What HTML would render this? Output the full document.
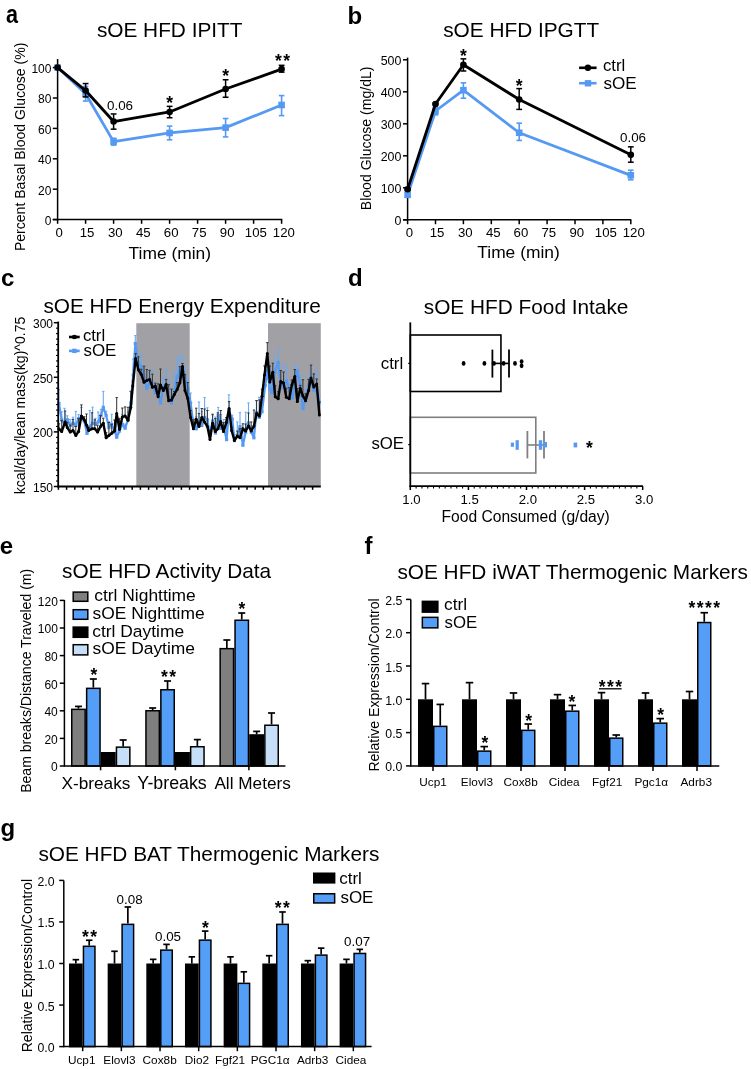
<!DOCTYPE html>
<html><head><meta charset="utf-8"><title>Figure</title>
<style>
html,body{margin:0;padding:0;background:#fff;}
svg{display:block;will-change:transform;}
svg text{font-family:"Liberation Sans", sans-serif;}
</style></head>
<body>
<svg width="751" height="1069" viewBox="0 0 751 1069">
<rect x="0" y="0" width="751" height="1069" fill="#fff"/>
<text transform="translate(6.07,23.2) scale(0.9,1.1)" font-size="24" font-weight="bold">a</text>
<text x="96.9" y="37.4" font-size="20.8" fill="#000">sOE HFD IPITT</text>
<line x1="57.6" y1="59" x2="57.6" y2="220.35" stroke="#000" stroke-width="1.5" stroke-linecap="butt"/>
<line x1="52.8" y1="219.6" x2="282.3" y2="219.6" stroke="#000" stroke-width="1.5" stroke-linecap="butt"/>
<text x="44.7" y="225.05" font-size="12" fill="#000">0</text>
<line x1="52.8" y1="219.6" x2="57.6" y2="219.6" stroke="#000" stroke-width="1.5" stroke-linecap="butt"/>
<text x="38" y="194.65" font-size="12" fill="#000">20</text>
<line x1="52.8" y1="189.2" x2="57.6" y2="189.2" stroke="#000" stroke-width="1.5" stroke-linecap="butt"/>
<text x="38" y="164.25" font-size="12" fill="#000">40</text>
<line x1="52.8" y1="158.8" x2="57.6" y2="158.8" stroke="#000" stroke-width="1.5" stroke-linecap="butt"/>
<text x="38" y="133.85" font-size="12" fill="#000">60</text>
<line x1="52.8" y1="128.4" x2="57.6" y2="128.4" stroke="#000" stroke-width="1.5" stroke-linecap="butt"/>
<text x="38" y="103.45" font-size="12" fill="#000">80</text>
<line x1="52.8" y1="98" x2="57.6" y2="98" stroke="#000" stroke-width="1.5" stroke-linecap="butt"/>
<text x="31.4" y="73.05" font-size="12" fill="#000">100</text>
<line x1="52.8" y1="67.6" x2="57.6" y2="67.6" stroke="#000" stroke-width="1.5" stroke-linecap="butt"/>
<line x1="57.6" y1="219.6" x2="57.6" y2="223.8" stroke="#000" stroke-width="1.5" stroke-linecap="butt"/>
<text x="55.55" y="237.4" font-size="13.2" fill="#000">0</text>
<line x1="85.6" y1="219.6" x2="85.6" y2="223.8" stroke="#000" stroke-width="1.5" stroke-linecap="butt"/>
<text x="79.65" y="237.4" font-size="13.2" fill="#000">15</text>
<line x1="113.6" y1="219.6" x2="113.6" y2="223.8" stroke="#000" stroke-width="1.5" stroke-linecap="butt"/>
<text x="107.9" y="237.4" font-size="13.2" fill="#000">30</text>
<line x1="141.6" y1="219.6" x2="141.6" y2="223.8" stroke="#000" stroke-width="1.5" stroke-linecap="butt"/>
<text x="136" y="237.4" font-size="13.2" fill="#000">45</text>
<line x1="169.6" y1="219.6" x2="169.6" y2="223.8" stroke="#000" stroke-width="1.5" stroke-linecap="butt"/>
<text x="163.8" y="237.4" font-size="13.2" fill="#000">60</text>
<line x1="197.6" y1="219.6" x2="197.6" y2="223.8" stroke="#000" stroke-width="1.5" stroke-linecap="butt"/>
<text x="191.8" y="237.4" font-size="13.2" fill="#000">75</text>
<line x1="225.6" y1="219.6" x2="225.6" y2="223.8" stroke="#000" stroke-width="1.5" stroke-linecap="butt"/>
<text x="219.85" y="237.4" font-size="13.2" fill="#000">90</text>
<line x1="253.6" y1="219.6" x2="253.6" y2="223.8" stroke="#000" stroke-width="1.5" stroke-linecap="butt"/>
<text x="244.85" y="237.4" font-size="13.2" fill="#000">105</text>
<line x1="281.6" y1="219.6" x2="281.6" y2="223.8" stroke="#000" stroke-width="1.5" stroke-linecap="butt"/>
<text x="272.85" y="237.4" font-size="13.2" fill="#000">120</text>
<text x="128.6" y="259.3" font-size="17.4" fill="#000">Time (min)</text>
<text transform="translate(25,251.1) rotate(-90)" font-size="14.05">Percent Basal Blood Glucose (%)</text>
<polyline points="57.6,67.6 85.6,93.74 113.6,141.62 169.6,132.96 225.6,127.64 281.6,104.99" fill="none" stroke="#5599f2" stroke-width="2.8" stroke-linejoin="round"/>
<rect x="54.3" y="64.3" width="6.6" height="6.6" fill="#5599f2"/>
<line x1="85.6" y1="86.45" x2="85.6" y2="101.04" stroke="#5599f2" stroke-width="1.6" stroke-linecap="butt"/>
<line x1="82.85" y1="86.45" x2="88.35" y2="86.45" stroke="#5599f2" stroke-width="1.6" stroke-linecap="butt"/>
<line x1="82.85" y1="101.04" x2="88.35" y2="101.04" stroke="#5599f2" stroke-width="1.6" stroke-linecap="butt"/>
<rect x="82.3" y="90.44" width="6.6" height="6.6" fill="#5599f2"/>
<line x1="113.6" y1="138.28" x2="113.6" y2="145.12" stroke="#5599f2" stroke-width="1.6" stroke-linecap="butt"/>
<line x1="110.85" y1="138.28" x2="116.35" y2="138.28" stroke="#5599f2" stroke-width="1.6" stroke-linecap="butt"/>
<line x1="110.85" y1="145.12" x2="116.35" y2="145.12" stroke="#5599f2" stroke-width="1.6" stroke-linecap="butt"/>
<rect x="110.3" y="138.32" width="6.6" height="6.6" fill="#5599f2"/>
<line x1="169.6" y1="126.12" x2="169.6" y2="139.8" stroke="#5599f2" stroke-width="1.6" stroke-linecap="butt"/>
<line x1="166.85" y1="126.12" x2="172.35" y2="126.12" stroke="#5599f2" stroke-width="1.6" stroke-linecap="butt"/>
<line x1="166.85" y1="139.8" x2="172.35" y2="139.8" stroke="#5599f2" stroke-width="1.6" stroke-linecap="butt"/>
<rect x="166.3" y="129.66" width="6.6" height="6.6" fill="#5599f2"/>
<line x1="225.6" y1="118.52" x2="225.6" y2="136.91" stroke="#5599f2" stroke-width="1.6" stroke-linecap="butt"/>
<line x1="222.85" y1="118.52" x2="228.35" y2="118.52" stroke="#5599f2" stroke-width="1.6" stroke-linecap="butt"/>
<line x1="222.85" y1="136.91" x2="228.35" y2="136.91" stroke="#5599f2" stroke-width="1.6" stroke-linecap="butt"/>
<rect x="222.3" y="124.34" width="6.6" height="6.6" fill="#5599f2"/>
<line x1="281.6" y1="95.57" x2="281.6" y2="115.63" stroke="#5599f2" stroke-width="1.6" stroke-linecap="butt"/>
<line x1="278.85" y1="95.57" x2="284.35" y2="95.57" stroke="#5599f2" stroke-width="1.6" stroke-linecap="butt"/>
<line x1="278.85" y1="115.63" x2="284.35" y2="115.63" stroke="#5599f2" stroke-width="1.6" stroke-linecap="butt"/>
<rect x="278.3" y="101.69" width="6.6" height="6.6" fill="#5599f2"/>
<polyline points="57.6,67.6 85.6,90.55 113.6,121.56 169.6,111.98 225.6,89.03 281.6,69.12" fill="none" stroke="#000" stroke-width="2.8" stroke-linejoin="round"/>
<circle cx="57.6" cy="67.6" r="3.3" fill="#000"/>
<line x1="85.6" y1="83.56" x2="85.6" y2="96.94" stroke="#000" stroke-width="1.5" stroke-linecap="butt"/>
<line x1="82.7" y1="83.56" x2="88.5" y2="83.56" stroke="#000" stroke-width="1.5" stroke-linecap="butt"/>
<line x1="82.7" y1="96.94" x2="88.5" y2="96.94" stroke="#000" stroke-width="1.5" stroke-linecap="butt"/>
<circle cx="85.6" cy="90.55" r="3.3" fill="#000"/>
<line x1="113.6" y1="113.96" x2="113.6" y2="129.16" stroke="#000" stroke-width="1.5" stroke-linecap="butt"/>
<line x1="110.7" y1="113.96" x2="116.5" y2="113.96" stroke="#000" stroke-width="1.5" stroke-linecap="butt"/>
<line x1="110.7" y1="129.16" x2="116.5" y2="129.16" stroke="#000" stroke-width="1.5" stroke-linecap="butt"/>
<circle cx="113.6" cy="121.56" r="3.3" fill="#000"/>
<line x1="169.6" y1="106.36" x2="169.6" y2="117.76" stroke="#000" stroke-width="1.5" stroke-linecap="butt"/>
<line x1="166.7" y1="106.36" x2="172.5" y2="106.36" stroke="#000" stroke-width="1.5" stroke-linecap="butt"/>
<line x1="166.7" y1="117.76" x2="172.5" y2="117.76" stroke="#000" stroke-width="1.5" stroke-linecap="butt"/>
<circle cx="169.6" cy="111.98" r="3.3" fill="#000"/>
<line x1="225.6" y1="79.76" x2="225.6" y2="97.24" stroke="#000" stroke-width="1.5" stroke-linecap="butt"/>
<line x1="222.7" y1="79.76" x2="228.5" y2="79.76" stroke="#000" stroke-width="1.5" stroke-linecap="butt"/>
<line x1="222.7" y1="97.24" x2="228.5" y2="97.24" stroke="#000" stroke-width="1.5" stroke-linecap="butt"/>
<circle cx="225.6" cy="89.03" r="3.3" fill="#000"/>
<line x1="281.6" y1="65.32" x2="281.6" y2="72.16" stroke="#000" stroke-width="1.5" stroke-linecap="butt"/>
<line x1="278.7" y1="65.32" x2="284.5" y2="65.32" stroke="#000" stroke-width="1.5" stroke-linecap="butt"/>
<line x1="278.7" y1="72.16" x2="284.5" y2="72.16" stroke="#000" stroke-width="1.5" stroke-linecap="butt"/>
<circle cx="281.6" cy="69.12" r="3.3" fill="#000"/>
<text x="107" y="110" font-size="13.4" fill="#000">0.06</text>
<text x="166.15" y="108.75" font-size="17.5" font-weight="bold" letter-spacing="1.4" fill="#000">*</text>
<text x="222.15" y="81.75" font-size="17.5" font-weight="bold" letter-spacing="1.4" fill="#000">*</text>
<text x="274.95" y="66.55" font-size="17.5" font-weight="bold" letter-spacing="1.4" fill="#000">**</text>
<text x="347.4" y="23.6" font-size="24" font-weight="bold" fill="#000">b</text>
<text x="443.2" y="37.4" font-size="20.8" fill="#000">sOE HFD IPGTT</text>
<line x1="407.6" y1="57.6" x2="407.6" y2="220.55" stroke="#000" stroke-width="1.5" stroke-linecap="butt"/>
<line x1="403" y1="219.8" x2="631.3" y2="219.8" stroke="#000" stroke-width="1.5" stroke-linecap="butt"/>
<text x="394.5" y="225.35" font-size="12.4" fill="#000">0</text>
<line x1="403" y1="219.8" x2="407.6" y2="219.8" stroke="#000" stroke-width="1.5" stroke-linecap="butt"/>
<text x="380.7" y="193.35" font-size="12.4" fill="#000">100</text>
<line x1="403" y1="187.8" x2="407.6" y2="187.8" stroke="#000" stroke-width="1.5" stroke-linecap="butt"/>
<text x="380.7" y="161.35" font-size="12.4" fill="#000">200</text>
<line x1="403" y1="155.8" x2="407.6" y2="155.8" stroke="#000" stroke-width="1.5" stroke-linecap="butt"/>
<text x="380.7" y="129.35" font-size="12.4" fill="#000">300</text>
<line x1="403" y1="123.8" x2="407.6" y2="123.8" stroke="#000" stroke-width="1.5" stroke-linecap="butt"/>
<text x="380.7" y="97.35" font-size="12.4" fill="#000">400</text>
<line x1="403" y1="91.8" x2="407.6" y2="91.8" stroke="#000" stroke-width="1.5" stroke-linecap="butt"/>
<text x="380.7" y="65.35" font-size="12.4" fill="#000">500</text>
<line x1="403" y1="59.8" x2="407.6" y2="59.8" stroke="#000" stroke-width="1.5" stroke-linecap="butt"/>
<line x1="407.6" y1="219.8" x2="407.6" y2="224.2" stroke="#000" stroke-width="1.5" stroke-linecap="butt"/>
<text x="405.75" y="237.2" font-size="13.2" fill="#000">0</text>
<line x1="435.5" y1="219.8" x2="435.5" y2="224.2" stroke="#000" stroke-width="1.5" stroke-linecap="butt"/>
<text x="429.75" y="237.2" font-size="13.2" fill="#000">15</text>
<line x1="463.4" y1="219.8" x2="463.4" y2="224.2" stroke="#000" stroke-width="1.5" stroke-linecap="butt"/>
<text x="457.9" y="237.2" font-size="13.2" fill="#000">30</text>
<line x1="491.3" y1="219.8" x2="491.3" y2="224.2" stroke="#000" stroke-width="1.5" stroke-linecap="butt"/>
<text x="485.9" y="237.2" font-size="13.2" fill="#000">45</text>
<line x1="519.2" y1="219.8" x2="519.2" y2="224.2" stroke="#000" stroke-width="1.5" stroke-linecap="butt"/>
<text x="513.6" y="237.2" font-size="13.2" fill="#000">60</text>
<line x1="547.1" y1="219.8" x2="547.1" y2="224.2" stroke="#000" stroke-width="1.5" stroke-linecap="butt"/>
<text x="541.5" y="237.2" font-size="13.2" fill="#000">75</text>
<line x1="575" y1="219.8" x2="575" y2="224.2" stroke="#000" stroke-width="1.5" stroke-linecap="butt"/>
<text x="569.45" y="237.2" font-size="13.2" fill="#000">90</text>
<line x1="602.9" y1="219.8" x2="602.9" y2="224.2" stroke="#000" stroke-width="1.5" stroke-linecap="butt"/>
<text x="594.85" y="237.2" font-size="13.2" fill="#000">105</text>
<line x1="630.8" y1="219.8" x2="630.8" y2="224.2" stroke="#000" stroke-width="1.5" stroke-linecap="butt"/>
<text x="622.75" y="237.2" font-size="13.2" fill="#000">120</text>
<text x="477.3" y="258.2" font-size="17.4" fill="#000">Time (min)</text>
<text transform="translate(371.2,210.2) rotate(-90)" font-size="14.05">Blood Glucose (mg/dL)</text>
<polyline points="407.6,194.84 435.5,111 463.4,90.2 519.2,132.76 630.8,175.32" fill="none" stroke="#5599f2" stroke-width="2.8" stroke-linejoin="round"/>
<line x1="407.6" y1="192.92" x2="407.6" y2="196.76" stroke="#5599f2" stroke-width="1.6" stroke-linecap="butt"/>
<line x1="404.85" y1="192.92" x2="410.35" y2="192.92" stroke="#5599f2" stroke-width="1.6" stroke-linecap="butt"/>
<line x1="404.85" y1="196.76" x2="410.35" y2="196.76" stroke="#5599f2" stroke-width="1.6" stroke-linecap="butt"/>
<rect x="404.3" y="191.54" width="6.6" height="6.6" fill="#5599f2"/>
<line x1="435.5" y1="107.16" x2="435.5" y2="114.84" stroke="#5599f2" stroke-width="1.6" stroke-linecap="butt"/>
<line x1="432.75" y1="107.16" x2="438.25" y2="107.16" stroke="#5599f2" stroke-width="1.6" stroke-linecap="butt"/>
<line x1="432.75" y1="114.84" x2="438.25" y2="114.84" stroke="#5599f2" stroke-width="1.6" stroke-linecap="butt"/>
<rect x="432.2" y="107.7" width="6.6" height="6.6" fill="#5599f2"/>
<line x1="463.4" y1="82.84" x2="463.4" y2="98.2" stroke="#5599f2" stroke-width="1.6" stroke-linecap="butt"/>
<line x1="460.65" y1="82.84" x2="466.15" y2="82.84" stroke="#5599f2" stroke-width="1.6" stroke-linecap="butt"/>
<line x1="460.65" y1="98.2" x2="466.15" y2="98.2" stroke="#5599f2" stroke-width="1.6" stroke-linecap="butt"/>
<rect x="460.1" y="86.9" width="6.6" height="6.6" fill="#5599f2"/>
<line x1="519.2" y1="123.16" x2="519.2" y2="140.44" stroke="#5599f2" stroke-width="1.6" stroke-linecap="butt"/>
<line x1="516.45" y1="123.16" x2="521.95" y2="123.16" stroke="#5599f2" stroke-width="1.6" stroke-linecap="butt"/>
<line x1="516.45" y1="140.44" x2="521.95" y2="140.44" stroke="#5599f2" stroke-width="1.6" stroke-linecap="butt"/>
<rect x="515.9" y="129.46" width="6.6" height="6.6" fill="#5599f2"/>
<line x1="630.8" y1="170.2" x2="630.8" y2="179.8" stroke="#5599f2" stroke-width="1.6" stroke-linecap="butt"/>
<line x1="628.05" y1="170.2" x2="633.55" y2="170.2" stroke="#5599f2" stroke-width="1.6" stroke-linecap="butt"/>
<line x1="628.05" y1="179.8" x2="633.55" y2="179.8" stroke="#5599f2" stroke-width="1.6" stroke-linecap="butt"/>
<rect x="627.5" y="172.02" width="6.6" height="6.6" fill="#5599f2"/>
<polyline points="407.6,189.21 435.5,103.96 463.4,64.7 519.2,99.48 630.8,154.84" fill="none" stroke="#000" stroke-width="2.8" stroke-linejoin="round"/>
<line x1="407.6" y1="188.12" x2="407.6" y2="190.36" stroke="#000" stroke-width="1.5" stroke-linecap="butt"/>
<line x1="404.7" y1="188.12" x2="410.5" y2="188.12" stroke="#000" stroke-width="1.5" stroke-linecap="butt"/>
<line x1="404.7" y1="190.36" x2="410.5" y2="190.36" stroke="#000" stroke-width="1.5" stroke-linecap="butt"/>
<circle cx="407.6" cy="189.21" r="3.3" fill="#000"/>
<line x1="435.5" y1="103.32" x2="435.5" y2="104.6" stroke="#000" stroke-width="1.5" stroke-linecap="butt"/>
<line x1="432.6" y1="103.32" x2="438.4" y2="103.32" stroke="#000" stroke-width="1.5" stroke-linecap="butt"/>
<line x1="432.6" y1="104.6" x2="438.4" y2="104.6" stroke="#000" stroke-width="1.5" stroke-linecap="butt"/>
<circle cx="435.5" cy="103.96" r="3.3" fill="#000"/>
<line x1="463.4" y1="58.84" x2="463.4" y2="71" stroke="#000" stroke-width="1.5" stroke-linecap="butt"/>
<line x1="460.5" y1="58.84" x2="466.3" y2="58.84" stroke="#000" stroke-width="1.5" stroke-linecap="butt"/>
<line x1="460.5" y1="71" x2="466.3" y2="71" stroke="#000" stroke-width="1.5" stroke-linecap="butt"/>
<circle cx="463.4" cy="64.7" r="3.3" fill="#000"/>
<line x1="519.2" y1="88.6" x2="519.2" y2="109.4" stroke="#000" stroke-width="1.5" stroke-linecap="butt"/>
<line x1="516.3" y1="88.6" x2="522.1" y2="88.6" stroke="#000" stroke-width="1.5" stroke-linecap="butt"/>
<line x1="516.3" y1="109.4" x2="522.1" y2="109.4" stroke="#000" stroke-width="1.5" stroke-linecap="butt"/>
<circle cx="519.2" cy="99.48" r="3.3" fill="#000"/>
<line x1="630.8" y1="146.84" x2="630.8" y2="162.2" stroke="#000" stroke-width="1.5" stroke-linecap="butt"/>
<line x1="627.9" y1="146.84" x2="633.7" y2="146.84" stroke="#000" stroke-width="1.5" stroke-linecap="butt"/>
<line x1="627.9" y1="162.2" x2="633.7" y2="162.2" stroke="#000" stroke-width="1.5" stroke-linecap="butt"/>
<circle cx="630.8" cy="154.84" r="3.3" fill="#000"/>
<text x="459.95" y="62.25" font-size="17.5" font-weight="bold" letter-spacing="1.4" fill="#000">*</text>
<text x="515.75" y="91.55" font-size="17.5" font-weight="bold" letter-spacing="1.4" fill="#000">*</text>
<text x="620" y="142.4" font-size="13.4" fill="#000">0.06</text>
<line x1="579.1" y1="67.8" x2="596.6" y2="67.8" stroke="#000" stroke-width="2.6" stroke-linecap="butt"/>
<circle cx="587.9" cy="67.8" r="3.2" fill="#000"/>
<line x1="579.1" y1="83.2" x2="596.6" y2="83.2" stroke="#5599f2" stroke-width="2.6" stroke-linecap="butt"/>
<rect x="584.8" y="80.1" width="6.4" height="6.4" fill="#5599f2"/>
<text x="603" y="71" font-size="16.7" fill="#000">ctrl</text>
<text x="603.5" y="89" font-size="17.1" fill="#000">sOE</text>
<text x="1.1" y="285.6" font-size="24" font-weight="bold" fill="#000">c</text>
<text x="43.4" y="313.3" font-size="20.8" fill="#000">sOE HFD Energy Expenditure</text>
<rect x="136.3" y="323.2" width="53.4" height="163.3" fill="#a1a0a5"/>
<rect x="268" y="323.2" width="52.8" height="163.3" fill="#a1a0a5"/>
<line x1="58.9" y1="389.5" x2="58.9" y2="403.5" stroke="#6aa8f5" stroke-width="1.1" stroke-linecap="butt"/>
<line x1="57.7" y1="389.5" x2="60.1" y2="389.5" stroke="#6aa8f5" stroke-width="1" stroke-linecap="butt"/>
<line x1="61.7" y1="411.8" x2="61.7" y2="419.8" stroke="#6aa8f5" stroke-width="1.1" stroke-linecap="butt"/>
<line x1="60.5" y1="411.8" x2="62.9" y2="411.8" stroke="#6aa8f5" stroke-width="1" stroke-linecap="butt"/>
<line x1="64.5" y1="408.3" x2="64.5" y2="424.3" stroke="#6aa8f5" stroke-width="1.1" stroke-linecap="butt"/>
<line x1="63.3" y1="408.3" x2="65.7" y2="408.3" stroke="#6aa8f5" stroke-width="1" stroke-linecap="butt"/>
<line x1="67.3" y1="415.8" x2="67.3" y2="419.8" stroke="#6aa8f5" stroke-width="1.1" stroke-linecap="butt"/>
<line x1="66.1" y1="415.8" x2="68.5" y2="415.8" stroke="#6aa8f5" stroke-width="1" stroke-linecap="butt"/>
<line x1="70.2" y1="419.4" x2="70.2" y2="425.4" stroke="#6aa8f5" stroke-width="1.1" stroke-linecap="butt"/>
<line x1="69" y1="419.4" x2="71.4" y2="419.4" stroke="#6aa8f5" stroke-width="1" stroke-linecap="butt"/>
<line x1="73" y1="417.2" x2="73" y2="423.2" stroke="#6aa8f5" stroke-width="1.1" stroke-linecap="butt"/>
<line x1="71.8" y1="417.2" x2="74.2" y2="417.2" stroke="#6aa8f5" stroke-width="1" stroke-linecap="butt"/>
<line x1="75.8" y1="411.4" x2="75.8" y2="425.4" stroke="#6aa8f5" stroke-width="1.1" stroke-linecap="butt"/>
<line x1="74.6" y1="411.4" x2="77" y2="411.4" stroke="#6aa8f5" stroke-width="1" stroke-linecap="butt"/>
<line x1="78.6" y1="414.7" x2="78.6" y2="418.7" stroke="#6aa8f5" stroke-width="1.1" stroke-linecap="butt"/>
<line x1="77.4" y1="414.7" x2="79.8" y2="414.7" stroke="#6aa8f5" stroke-width="1" stroke-linecap="butt"/>
<line x1="81.4" y1="407.5" x2="81.4" y2="417.5" stroke="#6aa8f5" stroke-width="1.1" stroke-linecap="butt"/>
<line x1="80.2" y1="407.5" x2="82.6" y2="407.5" stroke="#6aa8f5" stroke-width="1" stroke-linecap="butt"/>
<line x1="84.2" y1="416.9" x2="84.2" y2="420.9" stroke="#6aa8f5" stroke-width="1.1" stroke-linecap="butt"/>
<line x1="83" y1="416.9" x2="85.4" y2="416.9" stroke="#6aa8f5" stroke-width="1" stroke-linecap="butt"/>
<line x1="87" y1="427.3" x2="87" y2="433.3" stroke="#6aa8f5" stroke-width="1.1" stroke-linecap="butt"/>
<line x1="85.8" y1="427.3" x2="88.2" y2="427.3" stroke="#6aa8f5" stroke-width="1" stroke-linecap="butt"/>
<line x1="89.8" y1="410.5" x2="89.8" y2="426.5" stroke="#6aa8f5" stroke-width="1.1" stroke-linecap="butt"/>
<line x1="88.6" y1="410.5" x2="91" y2="410.5" stroke="#6aa8f5" stroke-width="1" stroke-linecap="butt"/>
<line x1="92.6" y1="407.2" x2="92.6" y2="423.2" stroke="#6aa8f5" stroke-width="1.1" stroke-linecap="butt"/>
<line x1="91.4" y1="407.2" x2="93.8" y2="407.2" stroke="#6aa8f5" stroke-width="1" stroke-linecap="butt"/>
<line x1="95.4" y1="418.3" x2="95.4" y2="424.3" stroke="#6aa8f5" stroke-width="1.1" stroke-linecap="butt"/>
<line x1="94.2" y1="418.3" x2="96.6" y2="418.3" stroke="#6aa8f5" stroke-width="1" stroke-linecap="butt"/>
<line x1="98.2" y1="412" x2="98.2" y2="422" stroke="#6aa8f5" stroke-width="1.1" stroke-linecap="butt"/>
<line x1="97" y1="412" x2="99.4" y2="412" stroke="#6aa8f5" stroke-width="1" stroke-linecap="butt"/>
<line x1="101" y1="409.3" x2="101" y2="415.3" stroke="#6aa8f5" stroke-width="1.1" stroke-linecap="butt"/>
<line x1="99.8" y1="409.3" x2="102.2" y2="409.3" stroke="#6aa8f5" stroke-width="1" stroke-linecap="butt"/>
<line x1="103.3" y1="391.4" x2="103.3" y2="407.4" stroke="#6aa8f5" stroke-width="1.1" stroke-linecap="butt"/>
<line x1="102.1" y1="391.4" x2="104.5" y2="391.4" stroke="#6aa8f5" stroke-width="1" stroke-linecap="butt"/>
<line x1="106.1" y1="411.3" x2="106.1" y2="415.3" stroke="#6aa8f5" stroke-width="1.1" stroke-linecap="butt"/>
<line x1="104.9" y1="411.3" x2="107.3" y2="411.3" stroke="#6aa8f5" stroke-width="1" stroke-linecap="butt"/>
<line x1="108.9" y1="421.6" x2="108.9" y2="427.6" stroke="#6aa8f5" stroke-width="1.1" stroke-linecap="butt"/>
<line x1="107.7" y1="421.6" x2="110.1" y2="421.6" stroke="#6aa8f5" stroke-width="1" stroke-linecap="butt"/>
<line x1="111.7" y1="414.3" x2="111.7" y2="424.3" stroke="#6aa8f5" stroke-width="1.1" stroke-linecap="butt"/>
<line x1="110.5" y1="414.3" x2="112.9" y2="414.3" stroke="#6aa8f5" stroke-width="1" stroke-linecap="butt"/>
<line x1="114.5" y1="427" x2="114.5" y2="431" stroke="#6aa8f5" stroke-width="1.1" stroke-linecap="butt"/>
<line x1="113.3" y1="427" x2="115.7" y2="427" stroke="#6aa8f5" stroke-width="1" stroke-linecap="butt"/>
<line x1="116.7" y1="421.2" x2="116.7" y2="437.2" stroke="#6aa8f5" stroke-width="1.1" stroke-linecap="butt"/>
<line x1="115.5" y1="421.2" x2="117.9" y2="421.2" stroke="#6aa8f5" stroke-width="1" stroke-linecap="butt"/>
<line x1="119.5" y1="427" x2="119.5" y2="431" stroke="#6aa8f5" stroke-width="1.1" stroke-linecap="butt"/>
<line x1="118.3" y1="427" x2="120.7" y2="427" stroke="#6aa8f5" stroke-width="1" stroke-linecap="butt"/>
<line x1="122.3" y1="414.3" x2="122.3" y2="424.3" stroke="#6aa8f5" stroke-width="1.1" stroke-linecap="butt"/>
<line x1="121.1" y1="414.3" x2="123.5" y2="414.3" stroke="#6aa8f5" stroke-width="1" stroke-linecap="butt"/>
<line x1="125.1" y1="424.2" x2="125.1" y2="428.2" stroke="#6aa8f5" stroke-width="1.1" stroke-linecap="butt"/>
<line x1="123.9" y1="424.2" x2="126.3" y2="424.2" stroke="#6aa8f5" stroke-width="1" stroke-linecap="butt"/>
<line x1="128" y1="411.8" x2="128" y2="419.8" stroke="#6aa8f5" stroke-width="1.1" stroke-linecap="butt"/>
<line x1="126.8" y1="411.8" x2="129.2" y2="411.8" stroke="#6aa8f5" stroke-width="1" stroke-linecap="butt"/>
<line x1="130.8" y1="391" x2="130.8" y2="403" stroke="#6aa8f5" stroke-width="1.1" stroke-linecap="butt"/>
<line x1="129.6" y1="391" x2="132" y2="391" stroke="#6aa8f5" stroke-width="1" stroke-linecap="butt"/>
<line x1="133.2" y1="359" x2="133.2" y2="375" stroke="#6aa8f5" stroke-width="1.1" stroke-linecap="butt"/>
<line x1="132" y1="359" x2="134.4" y2="359" stroke="#6aa8f5" stroke-width="1" stroke-linecap="butt"/>
<line x1="135.3" y1="335.5" x2="135.3" y2="343.5" stroke="#6aa8f5" stroke-width="1.1" stroke-linecap="butt"/>
<line x1="134.1" y1="335.5" x2="136.5" y2="335.5" stroke="#6aa8f5" stroke-width="1" stroke-linecap="butt"/>
<line x1="138.4" y1="356.5" x2="138.4" y2="362.5" stroke="#6aa8f5" stroke-width="1.1" stroke-linecap="butt"/>
<line x1="137.2" y1="356.5" x2="139.6" y2="356.5" stroke="#6aa8f5" stroke-width="1" stroke-linecap="butt"/>
<line x1="141.2" y1="355" x2="141.2" y2="367" stroke="#6aa8f5" stroke-width="1.1" stroke-linecap="butt"/>
<line x1="140" y1="355" x2="142.4" y2="355" stroke="#6aa8f5" stroke-width="1" stroke-linecap="butt"/>
<line x1="144" y1="369" x2="144" y2="377" stroke="#6aa8f5" stroke-width="1.1" stroke-linecap="butt"/>
<line x1="142.8" y1="369" x2="145.2" y2="369" stroke="#6aa8f5" stroke-width="1" stroke-linecap="butt"/>
<line x1="146.8" y1="382.4" x2="146.8" y2="388.4" stroke="#6aa8f5" stroke-width="1.1" stroke-linecap="butt"/>
<line x1="145.6" y1="382.4" x2="148" y2="382.4" stroke="#6aa8f5" stroke-width="1" stroke-linecap="butt"/>
<line x1="149.6" y1="372.7" x2="149.6" y2="382.7" stroke="#6aa8f5" stroke-width="1.1" stroke-linecap="butt"/>
<line x1="148.4" y1="372.7" x2="150.8" y2="372.7" stroke="#6aa8f5" stroke-width="1" stroke-linecap="butt"/>
<line x1="152.4" y1="369.9" x2="152.4" y2="383.9" stroke="#6aa8f5" stroke-width="1.1" stroke-linecap="butt"/>
<line x1="151.2" y1="369.9" x2="153.6" y2="369.9" stroke="#6aa8f5" stroke-width="1" stroke-linecap="butt"/>
<line x1="155.3" y1="386.8" x2="155.3" y2="392.8" stroke="#6aa8f5" stroke-width="1.1" stroke-linecap="butt"/>
<line x1="154.1" y1="386.8" x2="156.5" y2="386.8" stroke="#6aa8f5" stroke-width="1" stroke-linecap="butt"/>
<line x1="158" y1="386.8" x2="158" y2="392.8" stroke="#6aa8f5" stroke-width="1.1" stroke-linecap="butt"/>
<line x1="156.8" y1="386.8" x2="159.2" y2="386.8" stroke="#6aa8f5" stroke-width="1" stroke-linecap="butt"/>
<line x1="160.5" y1="399" x2="160.5" y2="403" stroke="#6aa8f5" stroke-width="1.1" stroke-linecap="butt"/>
<line x1="159.3" y1="399" x2="161.7" y2="399" stroke="#6aa8f5" stroke-width="1" stroke-linecap="butt"/>
<line x1="163.4" y1="377.2" x2="163.4" y2="387.2" stroke="#6aa8f5" stroke-width="1.1" stroke-linecap="butt"/>
<line x1="162.2" y1="377.2" x2="164.6" y2="377.2" stroke="#6aa8f5" stroke-width="1" stroke-linecap="butt"/>
<line x1="166.1" y1="368.4" x2="166.1" y2="388.4" stroke="#6aa8f5" stroke-width="1.1" stroke-linecap="butt"/>
<line x1="164.9" y1="368.4" x2="167.3" y2="368.4" stroke="#6aa8f5" stroke-width="1" stroke-linecap="butt"/>
<line x1="168.7" y1="381.3" x2="168.7" y2="397.3" stroke="#6aa8f5" stroke-width="1.1" stroke-linecap="butt"/>
<line x1="167.5" y1="381.3" x2="169.9" y2="381.3" stroke="#6aa8f5" stroke-width="1" stroke-linecap="butt"/>
<line x1="171.5" y1="389" x2="171.5" y2="403" stroke="#6aa8f5" stroke-width="1.1" stroke-linecap="butt"/>
<line x1="170.3" y1="389" x2="172.7" y2="389" stroke="#6aa8f5" stroke-width="1" stroke-linecap="butt"/>
<line x1="174.3" y1="371.7" x2="174.3" y2="391.7" stroke="#6aa8f5" stroke-width="1.1" stroke-linecap="butt"/>
<line x1="173.1" y1="371.7" x2="175.5" y2="371.7" stroke="#6aa8f5" stroke-width="1" stroke-linecap="butt"/>
<line x1="177.1" y1="357.1" x2="177.1" y2="377.1" stroke="#6aa8f5" stroke-width="1.1" stroke-linecap="butt"/>
<line x1="175.9" y1="357.1" x2="178.3" y2="357.1" stroke="#6aa8f5" stroke-width="1" stroke-linecap="butt"/>
<line x1="179.9" y1="356.4" x2="179.9" y2="370.4" stroke="#6aa8f5" stroke-width="1.1" stroke-linecap="butt"/>
<line x1="178.7" y1="356.4" x2="181.1" y2="356.4" stroke="#6aa8f5" stroke-width="1" stroke-linecap="butt"/>
<line x1="182.5" y1="355" x2="182.5" y2="367" stroke="#6aa8f5" stroke-width="1.1" stroke-linecap="butt"/>
<line x1="181.3" y1="355" x2="183.7" y2="355" stroke="#6aa8f5" stroke-width="1" stroke-linecap="butt"/>
<line x1="185" y1="367.1" x2="185" y2="377.1" stroke="#6aa8f5" stroke-width="1.1" stroke-linecap="butt"/>
<line x1="183.8" y1="367.1" x2="186.2" y2="367.1" stroke="#6aa8f5" stroke-width="1" stroke-linecap="butt"/>
<line x1="187.8" y1="380.4" x2="187.8" y2="388.4" stroke="#6aa8f5" stroke-width="1.1" stroke-linecap="butt"/>
<line x1="186.6" y1="380.4" x2="189" y2="380.4" stroke="#6aa8f5" stroke-width="1" stroke-linecap="butt"/>
<line x1="190.6" y1="393" x2="190.6" y2="403" stroke="#6aa8f5" stroke-width="1.1" stroke-linecap="butt"/>
<line x1="189.4" y1="393" x2="191.8" y2="393" stroke="#6aa8f5" stroke-width="1" stroke-linecap="butt"/>
<line x1="193.4" y1="418.3" x2="193.4" y2="424.3" stroke="#6aa8f5" stroke-width="1.1" stroke-linecap="butt"/>
<line x1="192.2" y1="418.3" x2="194.6" y2="418.3" stroke="#6aa8f5" stroke-width="1" stroke-linecap="butt"/>
<line x1="196.2" y1="416.8" x2="196.2" y2="428.8" stroke="#6aa8f5" stroke-width="1.1" stroke-linecap="butt"/>
<line x1="195" y1="416.8" x2="197.4" y2="416.8" stroke="#6aa8f5" stroke-width="1" stroke-linecap="butt"/>
<line x1="199" y1="402" x2="199" y2="422" stroke="#6aa8f5" stroke-width="1.1" stroke-linecap="butt"/>
<line x1="197.8" y1="402" x2="200.2" y2="402" stroke="#6aa8f5" stroke-width="1" stroke-linecap="butt"/>
<line x1="201.8" y1="411.4" x2="201.8" y2="425.4" stroke="#6aa8f5" stroke-width="1.1" stroke-linecap="butt"/>
<line x1="200.6" y1="411.4" x2="203" y2="411.4" stroke="#6aa8f5" stroke-width="1" stroke-linecap="butt"/>
<line x1="204.6" y1="397.5" x2="204.6" y2="417.5" stroke="#6aa8f5" stroke-width="1.1" stroke-linecap="butt"/>
<line x1="203.4" y1="397.5" x2="205.8" y2="397.5" stroke="#6aa8f5" stroke-width="1" stroke-linecap="butt"/>
<line x1="207.4" y1="407.8" x2="207.4" y2="419.8" stroke="#6aa8f5" stroke-width="1.1" stroke-linecap="butt"/>
<line x1="206.2" y1="407.8" x2="208.6" y2="407.8" stroke="#6aa8f5" stroke-width="1" stroke-linecap="butt"/>
<line x1="209.8" y1="429" x2="209.8" y2="435" stroke="#6aa8f5" stroke-width="1.1" stroke-linecap="butt"/>
<line x1="208.6" y1="429" x2="211" y2="429" stroke="#6aa8f5" stroke-width="1" stroke-linecap="butt"/>
<line x1="212.6" y1="415" x2="212.6" y2="421" stroke="#6aa8f5" stroke-width="1.1" stroke-linecap="butt"/>
<line x1="211.4" y1="415" x2="213.8" y2="415" stroke="#6aa8f5" stroke-width="1" stroke-linecap="butt"/>
<line x1="215.4" y1="417" x2="215.4" y2="433" stroke="#6aa8f5" stroke-width="1.1" stroke-linecap="butt"/>
<line x1="214.2" y1="417" x2="216.6" y2="417" stroke="#6aa8f5" stroke-width="1" stroke-linecap="butt"/>
<line x1="218.2" y1="407.4" x2="218.2" y2="415.4" stroke="#6aa8f5" stroke-width="1.1" stroke-linecap="butt"/>
<line x1="217" y1="407.4" x2="219.4" y2="407.4" stroke="#6aa8f5" stroke-width="1" stroke-linecap="butt"/>
<line x1="221" y1="414.5" x2="221" y2="428.5" stroke="#6aa8f5" stroke-width="1.1" stroke-linecap="butt"/>
<line x1="219.8" y1="414.5" x2="222.2" y2="414.5" stroke="#6aa8f5" stroke-width="1" stroke-linecap="butt"/>
<line x1="223.8" y1="419.5" x2="223.8" y2="427.5" stroke="#6aa8f5" stroke-width="1.1" stroke-linecap="butt"/>
<line x1="222.6" y1="419.5" x2="225" y2="419.5" stroke="#6aa8f5" stroke-width="1" stroke-linecap="butt"/>
<line x1="226.6" y1="419.6" x2="226.6" y2="439.6" stroke="#6aa8f5" stroke-width="1.1" stroke-linecap="butt"/>
<line x1="225.4" y1="419.6" x2="227.8" y2="419.6" stroke="#6aa8f5" stroke-width="1" stroke-linecap="butt"/>
<line x1="228.9" y1="394.8" x2="228.9" y2="410.8" stroke="#6aa8f5" stroke-width="1.1" stroke-linecap="butt"/>
<line x1="227.7" y1="394.8" x2="230.1" y2="394.8" stroke="#6aa8f5" stroke-width="1" stroke-linecap="butt"/>
<line x1="232.2" y1="415.1" x2="232.2" y2="419.1" stroke="#6aa8f5" stroke-width="1.1" stroke-linecap="butt"/>
<line x1="231" y1="415.1" x2="233.4" y2="415.1" stroke="#6aa8f5" stroke-width="1" stroke-linecap="butt"/>
<line x1="234.5" y1="434.6" x2="234.5" y2="440.6" stroke="#6aa8f5" stroke-width="1.1" stroke-linecap="butt"/>
<line x1="233.3" y1="434.6" x2="235.7" y2="434.6" stroke="#6aa8f5" stroke-width="1" stroke-linecap="butt"/>
<line x1="237.3" y1="421.9" x2="237.3" y2="435.9" stroke="#6aa8f5" stroke-width="1.1" stroke-linecap="butt"/>
<line x1="236.1" y1="421.9" x2="238.5" y2="421.9" stroke="#6aa8f5" stroke-width="1" stroke-linecap="butt"/>
<line x1="240" y1="412.6" x2="240" y2="426.6" stroke="#6aa8f5" stroke-width="1.1" stroke-linecap="butt"/>
<line x1="238.8" y1="412.6" x2="241.2" y2="412.6" stroke="#6aa8f5" stroke-width="1" stroke-linecap="butt"/>
<line x1="242.9" y1="431.2" x2="242.9" y2="445.2" stroke="#6aa8f5" stroke-width="1.1" stroke-linecap="butt"/>
<line x1="241.7" y1="431.2" x2="244.1" y2="431.2" stroke="#6aa8f5" stroke-width="1" stroke-linecap="butt"/>
<line x1="245.7" y1="412.2" x2="245.7" y2="432.2" stroke="#6aa8f5" stroke-width="1.1" stroke-linecap="butt"/>
<line x1="244.5" y1="412.2" x2="246.9" y2="412.2" stroke="#6aa8f5" stroke-width="1" stroke-linecap="butt"/>
<line x1="248.5" y1="402.9" x2="248.5" y2="422.9" stroke="#6aa8f5" stroke-width="1.1" stroke-linecap="butt"/>
<line x1="247.3" y1="402.9" x2="249.7" y2="402.9" stroke="#6aa8f5" stroke-width="1" stroke-linecap="butt"/>
<line x1="251.3" y1="426.2" x2="251.3" y2="432.2" stroke="#6aa8f5" stroke-width="1.1" stroke-linecap="butt"/>
<line x1="250.1" y1="426.2" x2="252.5" y2="426.2" stroke="#6aa8f5" stroke-width="1" stroke-linecap="butt"/>
<line x1="253.9" y1="431.8" x2="253.9" y2="437.8" stroke="#6aa8f5" stroke-width="1.1" stroke-linecap="butt"/>
<line x1="252.7" y1="431.8" x2="255.1" y2="431.8" stroke="#6aa8f5" stroke-width="1" stroke-linecap="butt"/>
<line x1="256.4" y1="400.6" x2="256.4" y2="412.6" stroke="#6aa8f5" stroke-width="1.1" stroke-linecap="butt"/>
<line x1="255.2" y1="400.6" x2="257.6" y2="400.6" stroke="#6aa8f5" stroke-width="1" stroke-linecap="butt"/>
<line x1="259.2" y1="397.3" x2="259.2" y2="417.3" stroke="#6aa8f5" stroke-width="1.1" stroke-linecap="butt"/>
<line x1="258" y1="397.3" x2="260.4" y2="397.3" stroke="#6aa8f5" stroke-width="1" stroke-linecap="butt"/>
<line x1="262" y1="405.7" x2="262" y2="411.7" stroke="#6aa8f5" stroke-width="1.1" stroke-linecap="butt"/>
<line x1="260.8" y1="405.7" x2="263.2" y2="405.7" stroke="#6aa8f5" stroke-width="1" stroke-linecap="butt"/>
<line x1="265.2" y1="381.6" x2="265.2" y2="385.6" stroke="#6aa8f5" stroke-width="1.1" stroke-linecap="butt"/>
<line x1="264" y1="381.6" x2="266.4" y2="381.6" stroke="#6aa8f5" stroke-width="1" stroke-linecap="butt"/>
<line x1="267.4" y1="359.2" x2="267.4" y2="371.2" stroke="#6aa8f5" stroke-width="1.1" stroke-linecap="butt"/>
<line x1="266.2" y1="359.2" x2="268.6" y2="359.2" stroke="#6aa8f5" stroke-width="1" stroke-linecap="butt"/>
<line x1="269.8" y1="368.9" x2="269.8" y2="388.9" stroke="#6aa8f5" stroke-width="1.1" stroke-linecap="butt"/>
<line x1="268.6" y1="368.9" x2="271" y2="368.9" stroke="#6aa8f5" stroke-width="1" stroke-linecap="butt"/>
<line x1="271.8" y1="380.8" x2="271.8" y2="392.8" stroke="#6aa8f5" stroke-width="1.1" stroke-linecap="butt"/>
<line x1="270.6" y1="380.8" x2="273" y2="380.8" stroke="#6aa8f5" stroke-width="1" stroke-linecap="butt"/>
<line x1="274.7" y1="356.2" x2="274.7" y2="372.2" stroke="#6aa8f5" stroke-width="1.1" stroke-linecap="butt"/>
<line x1="273.5" y1="356.2" x2="275.9" y2="356.2" stroke="#6aa8f5" stroke-width="1" stroke-linecap="butt"/>
<line x1="278.2" y1="348.4" x2="278.2" y2="362.4" stroke="#6aa8f5" stroke-width="1.1" stroke-linecap="butt"/>
<line x1="277" y1="348.4" x2="279.4" y2="348.4" stroke="#6aa8f5" stroke-width="1" stroke-linecap="butt"/>
<line x1="281.1" y1="383.9" x2="281.1" y2="387.9" stroke="#6aa8f5" stroke-width="1.1" stroke-linecap="butt"/>
<line x1="279.9" y1="383.9" x2="282.3" y2="383.9" stroke="#6aa8f5" stroke-width="1" stroke-linecap="butt"/>
<line x1="283.6" y1="365" x2="283.6" y2="385" stroke="#6aa8f5" stroke-width="1.1" stroke-linecap="butt"/>
<line x1="282.4" y1="365" x2="284.8" y2="365" stroke="#6aa8f5" stroke-width="1" stroke-linecap="butt"/>
<line x1="286.5" y1="367" x2="286.5" y2="381" stroke="#6aa8f5" stroke-width="1.1" stroke-linecap="butt"/>
<line x1="285.3" y1="367" x2="287.7" y2="367" stroke="#6aa8f5" stroke-width="1" stroke-linecap="butt"/>
<line x1="289.4" y1="382.8" x2="289.4" y2="390.8" stroke="#6aa8f5" stroke-width="1.1" stroke-linecap="butt"/>
<line x1="288.2" y1="382.8" x2="290.6" y2="382.8" stroke="#6aa8f5" stroke-width="1" stroke-linecap="butt"/>
<line x1="292.4" y1="391.7" x2="292.4" y2="397.7" stroke="#6aa8f5" stroke-width="1.1" stroke-linecap="butt"/>
<line x1="291.2" y1="391.7" x2="293.6" y2="391.7" stroke="#6aa8f5" stroke-width="1" stroke-linecap="butt"/>
<line x1="294.8" y1="365" x2="294.8" y2="385" stroke="#6aa8f5" stroke-width="1.1" stroke-linecap="butt"/>
<line x1="293.6" y1="365" x2="296" y2="365" stroke="#6aa8f5" stroke-width="1" stroke-linecap="butt"/>
<line x1="297.3" y1="367.2" x2="297.3" y2="371.2" stroke="#6aa8f5" stroke-width="1.1" stroke-linecap="butt"/>
<line x1="296.1" y1="367.2" x2="298.5" y2="367.2" stroke="#6aa8f5" stroke-width="1" stroke-linecap="butt"/>
<line x1="300.2" y1="375" x2="300.2" y2="385" stroke="#6aa8f5" stroke-width="1.1" stroke-linecap="butt"/>
<line x1="299" y1="375" x2="301.4" y2="375" stroke="#6aa8f5" stroke-width="1" stroke-linecap="butt"/>
<line x1="302.9" y1="396.5" x2="302.9" y2="408.5" stroke="#6aa8f5" stroke-width="1.1" stroke-linecap="butt"/>
<line x1="301.7" y1="396.5" x2="304.1" y2="396.5" stroke="#6aa8f5" stroke-width="1" stroke-linecap="butt"/>
<line x1="305.6" y1="390.7" x2="305.6" y2="398.7" stroke="#6aa8f5" stroke-width="1.1" stroke-linecap="butt"/>
<line x1="304.4" y1="390.7" x2="306.8" y2="390.7" stroke="#6aa8f5" stroke-width="1" stroke-linecap="butt"/>
<line x1="308.6" y1="375" x2="308.6" y2="385" stroke="#6aa8f5" stroke-width="1.1" stroke-linecap="butt"/>
<line x1="307.4" y1="375" x2="309.8" y2="375" stroke="#6aa8f5" stroke-width="1" stroke-linecap="butt"/>
<line x1="311" y1="365" x2="311" y2="381" stroke="#6aa8f5" stroke-width="1.1" stroke-linecap="butt"/>
<line x1="309.8" y1="365" x2="312.2" y2="365" stroke="#6aa8f5" stroke-width="1" stroke-linecap="butt"/>
<line x1="313.8" y1="373.9" x2="313.8" y2="389.9" stroke="#6aa8f5" stroke-width="1.1" stroke-linecap="butt"/>
<line x1="312.6" y1="373.9" x2="315" y2="373.9" stroke="#6aa8f5" stroke-width="1" stroke-linecap="butt"/>
<line x1="316.7" y1="370.8" x2="316.7" y2="390.8" stroke="#6aa8f5" stroke-width="1.1" stroke-linecap="butt"/>
<line x1="315.5" y1="370.8" x2="317.9" y2="370.8" stroke="#6aa8f5" stroke-width="1" stroke-linecap="butt"/>
<line x1="319.4" y1="396.6" x2="319.4" y2="402.6" stroke="#6aa8f5" stroke-width="1.1" stroke-linecap="butt"/>
<line x1="318.2" y1="396.6" x2="320.6" y2="396.6" stroke="#6aa8f5" stroke-width="1" stroke-linecap="butt"/>
<polyline points="58.9,403.5 61.7,419.8 64.5,424.3 67.3,419.8 70.2,425.4 73,423.2 75.8,425.4 78.6,418.7 81.4,417.5 84.2,420.9 87,433.3 89.8,426.5 92.6,423.2 95.4,424.3 98.2,422 101,415.3 103.3,407.4 106.1,415.3 108.9,427.6 111.7,424.3 114.5,431 116.7,437.2 119.5,431 122.3,424.3 125.1,428.2 128,419.8 130.8,403 133.2,375 135.3,343.5 138.4,362.5 141.2,367 144,377 146.8,388.4 149.6,382.7 152.4,383.9 155.3,392.8 158,392.8 160.5,403 163.4,387.2 166.1,388.4 168.7,397.3 171.5,403 174.3,391.7 177.1,377.1 179.9,370.4 182.5,367 185,377.1 187.8,388.4 190.6,403 193.4,424.3 196.2,428.8 199,422 201.8,425.4 204.6,417.5 207.4,419.8 209.8,435 212.6,421 215.4,433 218.2,415.4 221,428.5 223.8,427.5 226.6,439.6 228.9,410.8 232.2,419.1 234.5,440.6 237.3,435.9 240,426.6 242.9,445.2 245.7,432.2 248.5,422.9 251.3,432.2 253.9,437.8 256.4,412.6 259.2,417.3 262,411.7 265.2,385.6 267.4,371.2 269.8,388.9 271.8,392.8 274.7,372.2 278.2,362.4 281.1,387.9 283.6,385 286.5,381 289.4,390.8 292.4,397.7 294.8,385 297.3,371.2 300.2,385 302.9,408.5 305.6,398.7 308.6,385 311,381 313.8,389.9 316.7,390.8 319.4,402.6" fill="none" stroke="#5599f2" stroke-width="2.2" stroke-linejoin="round"/>
<rect x="57.3" y="401.9" width="3.2" height="3.2" fill="#5599f2"/>
<rect x="60.1" y="418.2" width="3.2" height="3.2" fill="#5599f2"/>
<rect x="62.9" y="422.7" width="3.2" height="3.2" fill="#5599f2"/>
<rect x="65.7" y="418.2" width="3.2" height="3.2" fill="#5599f2"/>
<rect x="68.6" y="423.8" width="3.2" height="3.2" fill="#5599f2"/>
<rect x="71.4" y="421.6" width="3.2" height="3.2" fill="#5599f2"/>
<rect x="74.2" y="423.8" width="3.2" height="3.2" fill="#5599f2"/>
<rect x="77" y="417.1" width="3.2" height="3.2" fill="#5599f2"/>
<rect x="79.8" y="415.9" width="3.2" height="3.2" fill="#5599f2"/>
<rect x="82.6" y="419.3" width="3.2" height="3.2" fill="#5599f2"/>
<rect x="85.4" y="431.7" width="3.2" height="3.2" fill="#5599f2"/>
<rect x="88.2" y="424.9" width="3.2" height="3.2" fill="#5599f2"/>
<rect x="91" y="421.6" width="3.2" height="3.2" fill="#5599f2"/>
<rect x="93.8" y="422.7" width="3.2" height="3.2" fill="#5599f2"/>
<rect x="96.6" y="420.4" width="3.2" height="3.2" fill="#5599f2"/>
<rect x="99.4" y="413.7" width="3.2" height="3.2" fill="#5599f2"/>
<rect x="101.7" y="405.8" width="3.2" height="3.2" fill="#5599f2"/>
<rect x="104.5" y="413.7" width="3.2" height="3.2" fill="#5599f2"/>
<rect x="107.3" y="426" width="3.2" height="3.2" fill="#5599f2"/>
<rect x="110.1" y="422.7" width="3.2" height="3.2" fill="#5599f2"/>
<rect x="112.9" y="429.4" width="3.2" height="3.2" fill="#5599f2"/>
<rect x="115.1" y="435.6" width="3.2" height="3.2" fill="#5599f2"/>
<rect x="117.9" y="429.4" width="3.2" height="3.2" fill="#5599f2"/>
<rect x="120.7" y="422.7" width="3.2" height="3.2" fill="#5599f2"/>
<rect x="123.5" y="426.6" width="3.2" height="3.2" fill="#5599f2"/>
<rect x="126.4" y="418.2" width="3.2" height="3.2" fill="#5599f2"/>
<rect x="129.2" y="401.4" width="3.2" height="3.2" fill="#5599f2"/>
<rect x="131.6" y="373.4" width="3.2" height="3.2" fill="#5599f2"/>
<rect x="133.7" y="341.9" width="3.2" height="3.2" fill="#5599f2"/>
<rect x="136.8" y="360.9" width="3.2" height="3.2" fill="#5599f2"/>
<rect x="139.6" y="365.4" width="3.2" height="3.2" fill="#5599f2"/>
<rect x="142.4" y="375.4" width="3.2" height="3.2" fill="#5599f2"/>
<rect x="145.2" y="386.8" width="3.2" height="3.2" fill="#5599f2"/>
<rect x="148" y="381.1" width="3.2" height="3.2" fill="#5599f2"/>
<rect x="150.8" y="382.3" width="3.2" height="3.2" fill="#5599f2"/>
<rect x="153.7" y="391.2" width="3.2" height="3.2" fill="#5599f2"/>
<rect x="156.4" y="391.2" width="3.2" height="3.2" fill="#5599f2"/>
<rect x="158.9" y="401.4" width="3.2" height="3.2" fill="#5599f2"/>
<rect x="161.8" y="385.6" width="3.2" height="3.2" fill="#5599f2"/>
<rect x="164.5" y="386.8" width="3.2" height="3.2" fill="#5599f2"/>
<rect x="167.1" y="395.7" width="3.2" height="3.2" fill="#5599f2"/>
<rect x="169.9" y="401.4" width="3.2" height="3.2" fill="#5599f2"/>
<rect x="172.7" y="390.1" width="3.2" height="3.2" fill="#5599f2"/>
<rect x="175.5" y="375.5" width="3.2" height="3.2" fill="#5599f2"/>
<rect x="178.3" y="368.8" width="3.2" height="3.2" fill="#5599f2"/>
<rect x="180.9" y="365.4" width="3.2" height="3.2" fill="#5599f2"/>
<rect x="183.4" y="375.5" width="3.2" height="3.2" fill="#5599f2"/>
<rect x="186.2" y="386.8" width="3.2" height="3.2" fill="#5599f2"/>
<rect x="189" y="401.4" width="3.2" height="3.2" fill="#5599f2"/>
<rect x="191.8" y="422.7" width="3.2" height="3.2" fill="#5599f2"/>
<rect x="194.6" y="427.2" width="3.2" height="3.2" fill="#5599f2"/>
<rect x="197.4" y="420.4" width="3.2" height="3.2" fill="#5599f2"/>
<rect x="200.2" y="423.8" width="3.2" height="3.2" fill="#5599f2"/>
<rect x="203" y="415.9" width="3.2" height="3.2" fill="#5599f2"/>
<rect x="205.8" y="418.2" width="3.2" height="3.2" fill="#5599f2"/>
<rect x="208.2" y="433.4" width="3.2" height="3.2" fill="#5599f2"/>
<rect x="211" y="419.4" width="3.2" height="3.2" fill="#5599f2"/>
<rect x="213.8" y="431.4" width="3.2" height="3.2" fill="#5599f2"/>
<rect x="216.6" y="413.8" width="3.2" height="3.2" fill="#5599f2"/>
<rect x="219.4" y="426.9" width="3.2" height="3.2" fill="#5599f2"/>
<rect x="222.2" y="425.9" width="3.2" height="3.2" fill="#5599f2"/>
<rect x="225" y="438" width="3.2" height="3.2" fill="#5599f2"/>
<rect x="227.3" y="409.2" width="3.2" height="3.2" fill="#5599f2"/>
<rect x="230.6" y="417.5" width="3.2" height="3.2" fill="#5599f2"/>
<rect x="232.9" y="439" width="3.2" height="3.2" fill="#5599f2"/>
<rect x="235.7" y="434.3" width="3.2" height="3.2" fill="#5599f2"/>
<rect x="238.4" y="425" width="3.2" height="3.2" fill="#5599f2"/>
<rect x="241.3" y="443.6" width="3.2" height="3.2" fill="#5599f2"/>
<rect x="244.1" y="430.6" width="3.2" height="3.2" fill="#5599f2"/>
<rect x="246.9" y="421.3" width="3.2" height="3.2" fill="#5599f2"/>
<rect x="249.7" y="430.6" width="3.2" height="3.2" fill="#5599f2"/>
<rect x="252.3" y="436.2" width="3.2" height="3.2" fill="#5599f2"/>
<rect x="254.8" y="411" width="3.2" height="3.2" fill="#5599f2"/>
<rect x="257.6" y="415.7" width="3.2" height="3.2" fill="#5599f2"/>
<rect x="260.4" y="410.1" width="3.2" height="3.2" fill="#5599f2"/>
<rect x="263.6" y="384" width="3.2" height="3.2" fill="#5599f2"/>
<rect x="265.8" y="369.6" width="3.2" height="3.2" fill="#5599f2"/>
<rect x="268.2" y="387.3" width="3.2" height="3.2" fill="#5599f2"/>
<rect x="270.2" y="391.2" width="3.2" height="3.2" fill="#5599f2"/>
<rect x="273.1" y="370.6" width="3.2" height="3.2" fill="#5599f2"/>
<rect x="276.6" y="360.8" width="3.2" height="3.2" fill="#5599f2"/>
<rect x="279.5" y="386.3" width="3.2" height="3.2" fill="#5599f2"/>
<rect x="282" y="383.4" width="3.2" height="3.2" fill="#5599f2"/>
<rect x="284.9" y="379.4" width="3.2" height="3.2" fill="#5599f2"/>
<rect x="287.8" y="389.2" width="3.2" height="3.2" fill="#5599f2"/>
<rect x="290.8" y="396.1" width="3.2" height="3.2" fill="#5599f2"/>
<rect x="293.2" y="383.4" width="3.2" height="3.2" fill="#5599f2"/>
<rect x="295.7" y="369.6" width="3.2" height="3.2" fill="#5599f2"/>
<rect x="298.6" y="383.4" width="3.2" height="3.2" fill="#5599f2"/>
<rect x="301.3" y="406.9" width="3.2" height="3.2" fill="#5599f2"/>
<rect x="304" y="397.1" width="3.2" height="3.2" fill="#5599f2"/>
<rect x="307" y="383.4" width="3.2" height="3.2" fill="#5599f2"/>
<rect x="309.4" y="379.4" width="3.2" height="3.2" fill="#5599f2"/>
<rect x="312.2" y="388.3" width="3.2" height="3.2" fill="#5599f2"/>
<rect x="315.1" y="389.2" width="3.2" height="3.2" fill="#5599f2"/>
<rect x="317.8" y="401" width="3.2" height="3.2" fill="#5599f2"/>
<line x1="58.9" y1="423.8" x2="58.9" y2="428.8" stroke="#333" stroke-width="1" stroke-linecap="butt"/>
<line x1="57.7" y1="423.8" x2="60.1" y2="423.8" stroke="#333" stroke-width="1" stroke-linecap="butt"/>
<line x1="61.7" y1="420.6" x2="61.7" y2="431.6" stroke="#333" stroke-width="1" stroke-linecap="butt"/>
<line x1="60.5" y1="420.6" x2="62.9" y2="420.6" stroke="#333" stroke-width="1" stroke-linecap="butt"/>
<line x1="65.1" y1="411" x2="65.1" y2="422" stroke="#333" stroke-width="1" stroke-linecap="butt"/>
<line x1="63.9" y1="411" x2="66.3" y2="411" stroke="#333" stroke-width="1" stroke-linecap="butt"/>
<line x1="67.3" y1="422.6" x2="67.3" y2="427.6" stroke="#333" stroke-width="1" stroke-linecap="butt"/>
<line x1="66.1" y1="422.6" x2="68.5" y2="422.6" stroke="#333" stroke-width="1" stroke-linecap="butt"/>
<line x1="70.2" y1="425.1" x2="70.2" y2="432.1" stroke="#333" stroke-width="1" stroke-linecap="butt"/>
<line x1="69" y1="425.1" x2="71.4" y2="425.1" stroke="#333" stroke-width="1" stroke-linecap="butt"/>
<line x1="73" y1="419.4" x2="73" y2="430.4" stroke="#333" stroke-width="1" stroke-linecap="butt"/>
<line x1="71.8" y1="419.4" x2="74.2" y2="419.4" stroke="#333" stroke-width="1" stroke-linecap="butt"/>
<line x1="75.8" y1="426.5" x2="75.8" y2="435.5" stroke="#333" stroke-width="1" stroke-linecap="butt"/>
<line x1="74.6" y1="426.5" x2="77" y2="426.5" stroke="#333" stroke-width="1" stroke-linecap="butt"/>
<line x1="78.6" y1="418.6" x2="78.6" y2="431.6" stroke="#333" stroke-width="1" stroke-linecap="butt"/>
<line x1="77.4" y1="418.6" x2="79.8" y2="418.6" stroke="#333" stroke-width="1" stroke-linecap="butt"/>
<line x1="81.4" y1="404.9" x2="81.4" y2="415.9" stroke="#333" stroke-width="1" stroke-linecap="butt"/>
<line x1="80.2" y1="404.9" x2="82.6" y2="404.9" stroke="#333" stroke-width="1" stroke-linecap="butt"/>
<line x1="84.2" y1="416.8" x2="84.2" y2="419.8" stroke="#333" stroke-width="1" stroke-linecap="butt"/>
<line x1="83" y1="416.8" x2="85.4" y2="416.8" stroke="#333" stroke-width="1" stroke-linecap="butt"/>
<line x1="86.5" y1="414" x2="86.5" y2="425" stroke="#333" stroke-width="1" stroke-linecap="butt"/>
<line x1="85.3" y1="414" x2="87.7" y2="414" stroke="#333" stroke-width="1" stroke-linecap="butt"/>
<line x1="88.7" y1="427.4" x2="88.7" y2="430.4" stroke="#333" stroke-width="1" stroke-linecap="butt"/>
<line x1="87.5" y1="427.4" x2="89.9" y2="427.4" stroke="#333" stroke-width="1" stroke-linecap="butt"/>
<line x1="92" y1="412.8" x2="92" y2="428.8" stroke="#333" stroke-width="1" stroke-linecap="butt"/>
<line x1="90.8" y1="412.8" x2="93.2" y2="412.8" stroke="#333" stroke-width="1" stroke-linecap="butt"/>
<line x1="94.8" y1="419.8" x2="94.8" y2="428.8" stroke="#333" stroke-width="1" stroke-linecap="butt"/>
<line x1="93.6" y1="419.8" x2="96" y2="419.8" stroke="#333" stroke-width="1" stroke-linecap="butt"/>
<line x1="97.6" y1="425.1" x2="97.6" y2="432.1" stroke="#333" stroke-width="1" stroke-linecap="butt"/>
<line x1="96.4" y1="425.1" x2="98.8" y2="425.1" stroke="#333" stroke-width="1" stroke-linecap="butt"/>
<line x1="100.5" y1="415.5" x2="100.5" y2="426.5" stroke="#333" stroke-width="1" stroke-linecap="butt"/>
<line x1="99.3" y1="415.5" x2="101.7" y2="415.5" stroke="#333" stroke-width="1" stroke-linecap="butt"/>
<line x1="103.3" y1="418.2" x2="103.3" y2="423.2" stroke="#333" stroke-width="1" stroke-linecap="butt"/>
<line x1="102.1" y1="418.2" x2="104.5" y2="418.2" stroke="#333" stroke-width="1" stroke-linecap="butt"/>
<line x1="106.1" y1="432.7" x2="106.1" y2="437.7" stroke="#333" stroke-width="1" stroke-linecap="butt"/>
<line x1="104.9" y1="432.7" x2="107.3" y2="432.7" stroke="#333" stroke-width="1" stroke-linecap="butt"/>
<line x1="108.9" y1="422.5" x2="108.9" y2="435.5" stroke="#333" stroke-width="1" stroke-linecap="butt"/>
<line x1="107.7" y1="422.5" x2="110.1" y2="422.5" stroke="#333" stroke-width="1" stroke-linecap="butt"/>
<line x1="111.7" y1="424.3" x2="111.7" y2="433.3" stroke="#333" stroke-width="1" stroke-linecap="butt"/>
<line x1="110.5" y1="424.3" x2="112.9" y2="424.3" stroke="#333" stroke-width="1" stroke-linecap="butt"/>
<line x1="114.5" y1="420" x2="114.5" y2="431" stroke="#333" stroke-width="1" stroke-linecap="butt"/>
<line x1="113.3" y1="420" x2="115.7" y2="420" stroke="#333" stroke-width="1" stroke-linecap="butt"/>
<line x1="116.7" y1="397.6" x2="116.7" y2="413.6" stroke="#333" stroke-width="1" stroke-linecap="butt"/>
<line x1="115.5" y1="397.6" x2="117.9" y2="397.6" stroke="#333" stroke-width="1" stroke-linecap="butt"/>
<line x1="119.5" y1="418.3" x2="119.5" y2="429.3" stroke="#333" stroke-width="1" stroke-linecap="butt"/>
<line x1="118.3" y1="418.3" x2="120.7" y2="418.3" stroke="#333" stroke-width="1" stroke-linecap="butt"/>
<line x1="122.3" y1="408" x2="122.3" y2="417" stroke="#333" stroke-width="1" stroke-linecap="butt"/>
<line x1="121.1" y1="408" x2="123.5" y2="408" stroke="#333" stroke-width="1" stroke-linecap="butt"/>
<line x1="125.1" y1="406.9" x2="125.1" y2="415.9" stroke="#333" stroke-width="1" stroke-linecap="butt"/>
<line x1="123.9" y1="406.9" x2="126.3" y2="406.9" stroke="#333" stroke-width="1" stroke-linecap="butt"/>
<line x1="128" y1="407.3" x2="128" y2="420.3" stroke="#333" stroke-width="1" stroke-linecap="butt"/>
<line x1="126.8" y1="407.3" x2="129.2" y2="407.3" stroke="#333" stroke-width="1" stroke-linecap="butt"/>
<line x1="130.8" y1="391.4" x2="130.8" y2="407.4" stroke="#333" stroke-width="1" stroke-linecap="butt"/>
<line x1="129.6" y1="391.4" x2="132" y2="391.4" stroke="#333" stroke-width="1" stroke-linecap="butt"/>
<line x1="132.8" y1="381.1" x2="132.8" y2="386.1" stroke="#333" stroke-width="1" stroke-linecap="butt"/>
<line x1="131.6" y1="381.1" x2="134" y2="381.1" stroke="#333" stroke-width="1" stroke-linecap="butt"/>
<line x1="135.6" y1="353.6" x2="135.6" y2="358.6" stroke="#333" stroke-width="1" stroke-linecap="butt"/>
<line x1="134.4" y1="353.6" x2="136.8" y2="353.6" stroke="#333" stroke-width="1" stroke-linecap="butt"/>
<line x1="138.4" y1="356.8" x2="138.4" y2="369.8" stroke="#333" stroke-width="1" stroke-linecap="butt"/>
<line x1="137.2" y1="356.8" x2="139.6" y2="356.8" stroke="#333" stroke-width="1" stroke-linecap="butt"/>
<line x1="141.2" y1="369.3" x2="141.2" y2="374.3" stroke="#333" stroke-width="1" stroke-linecap="butt"/>
<line x1="140" y1="369.3" x2="142.4" y2="369.3" stroke="#333" stroke-width="1" stroke-linecap="butt"/>
<line x1="144" y1="366.2" x2="144" y2="382.2" stroke="#333" stroke-width="1" stroke-linecap="butt"/>
<line x1="142.8" y1="366.2" x2="145.2" y2="366.2" stroke="#333" stroke-width="1" stroke-linecap="butt"/>
<line x1="146.8" y1="369.5" x2="146.8" y2="380.5" stroke="#333" stroke-width="1" stroke-linecap="butt"/>
<line x1="145.6" y1="369.5" x2="148" y2="369.5" stroke="#333" stroke-width="1" stroke-linecap="butt"/>
<line x1="149.6" y1="370.4" x2="149.6" y2="379.4" stroke="#333" stroke-width="1" stroke-linecap="butt"/>
<line x1="148.4" y1="370.4" x2="150.8" y2="370.4" stroke="#333" stroke-width="1" stroke-linecap="butt"/>
<line x1="152.4" y1="374.2" x2="152.4" y2="387.2" stroke="#333" stroke-width="1" stroke-linecap="butt"/>
<line x1="151.2" y1="374.2" x2="153.6" y2="374.2" stroke="#333" stroke-width="1" stroke-linecap="butt"/>
<line x1="155.3" y1="383.1" x2="155.3" y2="386.1" stroke="#333" stroke-width="1" stroke-linecap="butt"/>
<line x1="154.1" y1="383.1" x2="156.5" y2="383.1" stroke="#333" stroke-width="1" stroke-linecap="butt"/>
<line x1="158.1" y1="383.8" x2="158.1" y2="396.8" stroke="#333" stroke-width="1" stroke-linecap="butt"/>
<line x1="156.9" y1="383.8" x2="159.3" y2="383.8" stroke="#333" stroke-width="1" stroke-linecap="butt"/>
<line x1="160.5" y1="369" x2="160.5" y2="385" stroke="#333" stroke-width="1" stroke-linecap="butt"/>
<line x1="159.3" y1="369" x2="161.7" y2="369" stroke="#333" stroke-width="1" stroke-linecap="butt"/>
<line x1="163.4" y1="387.6" x2="163.4" y2="390.6" stroke="#333" stroke-width="1" stroke-linecap="butt"/>
<line x1="162.2" y1="387.6" x2="164.6" y2="387.6" stroke="#333" stroke-width="1" stroke-linecap="butt"/>
<line x1="166.1" y1="379.4" x2="166.1" y2="384.4" stroke="#333" stroke-width="1" stroke-linecap="butt"/>
<line x1="164.9" y1="379.4" x2="167.3" y2="379.4" stroke="#333" stroke-width="1" stroke-linecap="butt"/>
<line x1="168.7" y1="384.7" x2="168.7" y2="400.7" stroke="#333" stroke-width="1" stroke-linecap="butt"/>
<line x1="167.5" y1="384.7" x2="169.9" y2="384.7" stroke="#333" stroke-width="1" stroke-linecap="butt"/>
<line x1="171.5" y1="389.1" x2="171.5" y2="400.1" stroke="#333" stroke-width="1" stroke-linecap="butt"/>
<line x1="170.3" y1="389.1" x2="172.7" y2="389.1" stroke="#333" stroke-width="1" stroke-linecap="butt"/>
<line x1="174.3" y1="391.5" x2="174.3" y2="394.5" stroke="#333" stroke-width="1" stroke-linecap="butt"/>
<line x1="173.1" y1="391.5" x2="175.5" y2="391.5" stroke="#333" stroke-width="1" stroke-linecap="butt"/>
<line x1="177.1" y1="382.5" x2="177.1" y2="389.5" stroke="#333" stroke-width="1" stroke-linecap="butt"/>
<line x1="175.9" y1="382.5" x2="178.3" y2="382.5" stroke="#333" stroke-width="1" stroke-linecap="butt"/>
<line x1="179.9" y1="366.7" x2="179.9" y2="382.7" stroke="#333" stroke-width="1" stroke-linecap="butt"/>
<line x1="178.7" y1="366.7" x2="181.1" y2="366.7" stroke="#333" stroke-width="1" stroke-linecap="butt"/>
<line x1="182.5" y1="363.5" x2="182.5" y2="366.5" stroke="#333" stroke-width="1" stroke-linecap="butt"/>
<line x1="181.3" y1="363.5" x2="183.7" y2="363.5" stroke="#333" stroke-width="1" stroke-linecap="butt"/>
<line x1="185" y1="374.6" x2="185" y2="390.6" stroke="#333" stroke-width="1" stroke-linecap="butt"/>
<line x1="183.8" y1="374.6" x2="186.2" y2="374.6" stroke="#333" stroke-width="1" stroke-linecap="butt"/>
<line x1="187.8" y1="382.5" x2="187.8" y2="398.5" stroke="#333" stroke-width="1" stroke-linecap="butt"/>
<line x1="186.6" y1="382.5" x2="189" y2="382.5" stroke="#333" stroke-width="1" stroke-linecap="butt"/>
<line x1="190.6" y1="410.5" x2="190.6" y2="417.5" stroke="#333" stroke-width="1" stroke-linecap="butt"/>
<line x1="189.4" y1="410.5" x2="191.8" y2="410.5" stroke="#333" stroke-width="1" stroke-linecap="butt"/>
<line x1="193.4" y1="419.8" x2="193.4" y2="428.8" stroke="#333" stroke-width="1" stroke-linecap="butt"/>
<line x1="192.2" y1="419.8" x2="194.6" y2="419.8" stroke="#333" stroke-width="1" stroke-linecap="butt"/>
<line x1="196.2" y1="408.2" x2="196.2" y2="419.2" stroke="#333" stroke-width="1" stroke-linecap="butt"/>
<line x1="195" y1="408.2" x2="197.4" y2="408.2" stroke="#333" stroke-width="1" stroke-linecap="butt"/>
<line x1="199" y1="413.5" x2="199" y2="426.5" stroke="#333" stroke-width="1" stroke-linecap="butt"/>
<line x1="197.8" y1="413.5" x2="200.2" y2="413.5" stroke="#333" stroke-width="1" stroke-linecap="butt"/>
<line x1="201.8" y1="408.5" x2="201.8" y2="417.5" stroke="#333" stroke-width="1" stroke-linecap="butt"/>
<line x1="200.6" y1="408.5" x2="203" y2="408.5" stroke="#333" stroke-width="1" stroke-linecap="butt"/>
<line x1="204.6" y1="409" x2="204.6" y2="422" stroke="#333" stroke-width="1" stroke-linecap="butt"/>
<line x1="203.4" y1="409" x2="205.8" y2="409" stroke="#333" stroke-width="1" stroke-linecap="butt"/>
<line x1="207.4" y1="410.5" x2="207.4" y2="426.5" stroke="#333" stroke-width="1" stroke-linecap="butt"/>
<line x1="206.2" y1="410.5" x2="208.6" y2="410.5" stroke="#333" stroke-width="1" stroke-linecap="butt"/>
<line x1="210" y1="430.4" x2="210" y2="439.4" stroke="#333" stroke-width="1" stroke-linecap="butt"/>
<line x1="208.8" y1="430.4" x2="211.2" y2="430.4" stroke="#333" stroke-width="1" stroke-linecap="butt"/>
<line x1="212.6" y1="414.2" x2="212.6" y2="423.2" stroke="#333" stroke-width="1" stroke-linecap="butt"/>
<line x1="211.4" y1="414.2" x2="213.8" y2="414.2" stroke="#333" stroke-width="1" stroke-linecap="butt"/>
<line x1="215.3" y1="418.6" x2="215.3" y2="431.6" stroke="#333" stroke-width="1" stroke-linecap="butt"/>
<line x1="214.1" y1="418.6" x2="216.5" y2="418.6" stroke="#333" stroke-width="1" stroke-linecap="butt"/>
<line x1="217.9" y1="412.8" x2="217.9" y2="428.8" stroke="#333" stroke-width="1" stroke-linecap="butt"/>
<line x1="216.7" y1="412.8" x2="219.1" y2="412.8" stroke="#333" stroke-width="1" stroke-linecap="butt"/>
<line x1="220.7" y1="410.5" x2="220.7" y2="421.5" stroke="#333" stroke-width="1" stroke-linecap="butt"/>
<line x1="219.5" y1="410.5" x2="221.9" y2="410.5" stroke="#333" stroke-width="1" stroke-linecap="butt"/>
<line x1="223.5" y1="422.6" x2="223.5" y2="431.6" stroke="#333" stroke-width="1" stroke-linecap="butt"/>
<line x1="222.3" y1="422.6" x2="224.7" y2="422.6" stroke="#333" stroke-width="1" stroke-linecap="butt"/>
<line x1="226.3" y1="417.6" x2="226.3" y2="422.6" stroke="#333" stroke-width="1" stroke-linecap="butt"/>
<line x1="225.1" y1="417.6" x2="227.5" y2="417.6" stroke="#333" stroke-width="1" stroke-linecap="butt"/>
<line x1="229.1" y1="401.6" x2="229.1" y2="408.6" stroke="#333" stroke-width="1" stroke-linecap="butt"/>
<line x1="227.9" y1="401.6" x2="230.3" y2="401.6" stroke="#333" stroke-width="1" stroke-linecap="butt"/>
<line x1="231.6" y1="427.4" x2="231.6" y2="430.4" stroke="#333" stroke-width="1" stroke-linecap="butt"/>
<line x1="230.4" y1="427.4" x2="232.8" y2="427.4" stroke="#333" stroke-width="1" stroke-linecap="butt"/>
<line x1="234.4" y1="437.5" x2="234.4" y2="440.5" stroke="#333" stroke-width="1" stroke-linecap="butt"/>
<line x1="233.2" y1="437.5" x2="235.6" y2="437.5" stroke="#333" stroke-width="1" stroke-linecap="butt"/>
<line x1="237.3" y1="431.1" x2="237.3" y2="436.1" stroke="#333" stroke-width="1" stroke-linecap="butt"/>
<line x1="236.1" y1="431.1" x2="238.5" y2="431.1" stroke="#333" stroke-width="1" stroke-linecap="butt"/>
<line x1="240" y1="428.7" x2="240" y2="437.7" stroke="#333" stroke-width="1" stroke-linecap="butt"/>
<line x1="238.8" y1="428.7" x2="241.2" y2="428.7" stroke="#333" stroke-width="1" stroke-linecap="butt"/>
<line x1="242.9" y1="423.8" x2="242.9" y2="428.8" stroke="#333" stroke-width="1" stroke-linecap="butt"/>
<line x1="241.7" y1="423.8" x2="244.1" y2="423.8" stroke="#333" stroke-width="1" stroke-linecap="butt"/>
<line x1="245.6" y1="424" x2="245.6" y2="431" stroke="#333" stroke-width="1" stroke-linecap="butt"/>
<line x1="244.4" y1="424" x2="246.8" y2="424" stroke="#333" stroke-width="1" stroke-linecap="butt"/>
<line x1="248.5" y1="413" x2="248.5" y2="426" stroke="#333" stroke-width="1" stroke-linecap="butt"/>
<line x1="247.3" y1="413" x2="249.7" y2="413" stroke="#333" stroke-width="1" stroke-linecap="butt"/>
<line x1="251.2" y1="422" x2="251.2" y2="431" stroke="#333" stroke-width="1" stroke-linecap="butt"/>
<line x1="250" y1="422" x2="252.4" y2="422" stroke="#333" stroke-width="1" stroke-linecap="butt"/>
<line x1="254" y1="410" x2="254" y2="426" stroke="#333" stroke-width="1" stroke-linecap="butt"/>
<line x1="252.8" y1="410" x2="255.2" y2="410" stroke="#333" stroke-width="1" stroke-linecap="butt"/>
<line x1="256.6" y1="400.6" x2="256.6" y2="413.6" stroke="#333" stroke-width="1" stroke-linecap="butt"/>
<line x1="255.4" y1="400.6" x2="257.8" y2="400.6" stroke="#333" stroke-width="1" stroke-linecap="butt"/>
<line x1="259.4" y1="399.9" x2="259.4" y2="415.9" stroke="#333" stroke-width="1" stroke-linecap="butt"/>
<line x1="258.2" y1="399.9" x2="260.6" y2="399.9" stroke="#333" stroke-width="1" stroke-linecap="butt"/>
<line x1="262" y1="389.2" x2="262" y2="396.2" stroke="#333" stroke-width="1" stroke-linecap="butt"/>
<line x1="260.8" y1="389.2" x2="263.2" y2="389.2" stroke="#333" stroke-width="1" stroke-linecap="butt"/>
<line x1="264.5" y1="365.9" x2="264.5" y2="374.9" stroke="#333" stroke-width="1" stroke-linecap="butt"/>
<line x1="263.3" y1="365.9" x2="265.7" y2="365.9" stroke="#333" stroke-width="1" stroke-linecap="butt"/>
<line x1="267.3" y1="342.6" x2="267.3" y2="353.6" stroke="#333" stroke-width="1" stroke-linecap="butt"/>
<line x1="266.1" y1="342.6" x2="268.5" y2="342.6" stroke="#333" stroke-width="1" stroke-linecap="butt"/>
<line x1="269.8" y1="366" x2="269.8" y2="382" stroke="#333" stroke-width="1" stroke-linecap="butt"/>
<line x1="268.6" y1="366" x2="271" y2="366" stroke="#333" stroke-width="1" stroke-linecap="butt"/>
<line x1="272.8" y1="363.2" x2="272.8" y2="372.2" stroke="#333" stroke-width="1" stroke-linecap="butt"/>
<line x1="271.6" y1="363.2" x2="274" y2="363.2" stroke="#333" stroke-width="1" stroke-linecap="butt"/>
<line x1="275.2" y1="385.7" x2="275.2" y2="396.7" stroke="#333" stroke-width="1" stroke-linecap="butt"/>
<line x1="274" y1="385.7" x2="276.4" y2="385.7" stroke="#333" stroke-width="1" stroke-linecap="butt"/>
<line x1="278.2" y1="391.7" x2="278.2" y2="398.7" stroke="#333" stroke-width="1" stroke-linecap="butt"/>
<line x1="277" y1="391.7" x2="279.4" y2="391.7" stroke="#333" stroke-width="1" stroke-linecap="butt"/>
<line x1="280.8" y1="370.5" x2="280.8" y2="381.5" stroke="#333" stroke-width="1" stroke-linecap="butt"/>
<line x1="279.6" y1="370.5" x2="282" y2="370.5" stroke="#333" stroke-width="1" stroke-linecap="butt"/>
<line x1="283.6" y1="372" x2="283.6" y2="383" stroke="#333" stroke-width="1" stroke-linecap="butt"/>
<line x1="282.4" y1="372" x2="284.8" y2="372" stroke="#333" stroke-width="1" stroke-linecap="butt"/>
<line x1="286.3" y1="388.2" x2="286.3" y2="397.2" stroke="#333" stroke-width="1" stroke-linecap="butt"/>
<line x1="285.1" y1="388.2" x2="287.5" y2="388.2" stroke="#333" stroke-width="1" stroke-linecap="butt"/>
<line x1="289.2" y1="387.7" x2="289.2" y2="398.7" stroke="#333" stroke-width="1" stroke-linecap="butt"/>
<line x1="288" y1="387.7" x2="290.4" y2="387.7" stroke="#333" stroke-width="1" stroke-linecap="butt"/>
<line x1="291.9" y1="380" x2="291.9" y2="385" stroke="#333" stroke-width="1" stroke-linecap="butt"/>
<line x1="290.7" y1="380" x2="293.1" y2="380" stroke="#333" stroke-width="1" stroke-linecap="butt"/>
<line x1="294.8" y1="369.6" x2="294.8" y2="376.6" stroke="#333" stroke-width="1" stroke-linecap="butt"/>
<line x1="293.6" y1="369.6" x2="296" y2="369.6" stroke="#333" stroke-width="1" stroke-linecap="butt"/>
<line x1="297.3" y1="388.6" x2="297.3" y2="401.6" stroke="#333" stroke-width="1" stroke-linecap="butt"/>
<line x1="296.1" y1="388.6" x2="298.5" y2="388.6" stroke="#333" stroke-width="1" stroke-linecap="butt"/>
<line x1="300.2" y1="385.4" x2="300.2" y2="388.4" stroke="#333" stroke-width="1" stroke-linecap="butt"/>
<line x1="299" y1="385.4" x2="301.4" y2="385.4" stroke="#333" stroke-width="1" stroke-linecap="butt"/>
<line x1="302.9" y1="379.8" x2="302.9" y2="395.8" stroke="#333" stroke-width="1" stroke-linecap="butt"/>
<line x1="301.7" y1="379.8" x2="304.1" y2="379.8" stroke="#333" stroke-width="1" stroke-linecap="butt"/>
<line x1="305.6" y1="393.7" x2="305.6" y2="400.7" stroke="#333" stroke-width="1" stroke-linecap="butt"/>
<line x1="304.4" y1="393.7" x2="306.8" y2="393.7" stroke="#333" stroke-width="1" stroke-linecap="butt"/>
<line x1="308.6" y1="379.4" x2="308.6" y2="390.4" stroke="#333" stroke-width="1" stroke-linecap="butt"/>
<line x1="307.4" y1="379.4" x2="309.8" y2="379.4" stroke="#333" stroke-width="1" stroke-linecap="butt"/>
<line x1="311" y1="365.1" x2="311" y2="378.1" stroke="#333" stroke-width="1" stroke-linecap="butt"/>
<line x1="309.8" y1="365.1" x2="312.2" y2="365.1" stroke="#333" stroke-width="1" stroke-linecap="butt"/>
<line x1="313.8" y1="373.9" x2="313.8" y2="386.9" stroke="#333" stroke-width="1" stroke-linecap="butt"/>
<line x1="312.6" y1="373.9" x2="315" y2="373.9" stroke="#333" stroke-width="1" stroke-linecap="butt"/>
<line x1="316.7" y1="379" x2="316.7" y2="384" stroke="#333" stroke-width="1" stroke-linecap="butt"/>
<line x1="315.5" y1="379" x2="317.9" y2="379" stroke="#333" stroke-width="1" stroke-linecap="butt"/>
<line x1="319.4" y1="401.9" x2="319.4" y2="414.9" stroke="#333" stroke-width="1" stroke-linecap="butt"/>
<line x1="318.2" y1="401.9" x2="320.6" y2="401.9" stroke="#333" stroke-width="1" stroke-linecap="butt"/>
<polyline points="58.9,428.8 61.7,431.6 65.1,422 67.3,427.6 70.2,432.1 73,430.4 75.8,435.5 78.6,431.6 81.4,415.9 84.2,419.8 86.5,425 88.7,430.4 92,428.8 94.8,428.8 97.6,432.1 100.5,426.5 103.3,423.2 106.1,437.7 108.9,435.5 111.7,433.3 114.5,431 116.7,413.6 119.5,429.3 122.3,417 125.1,415.9 128,420.3 130.8,407.4 132.8,386.1 135.6,358.6 138.4,369.8 141.2,374.3 144,382.2 146.8,380.5 149.6,379.4 152.4,387.2 155.3,386.1 158.1,396.8 160.5,385 163.4,390.6 166.1,384.4 168.7,400.7 171.5,400.1 174.3,394.5 177.1,389.5 179.9,382.7 182.5,366.5 185,390.6 187.8,398.5 190.6,417.5 193.4,428.8 196.2,419.2 199,426.5 201.8,417.5 204.6,422 207.4,426.5 210,439.4 212.6,423.2 215.3,431.6 217.9,428.8 220.7,421.5 223.5,431.6 226.3,422.6 229.1,408.6 231.6,430.4 234.4,440.5 237.3,436.1 240,437.7 242.9,428.8 245.6,431 248.5,426 251.2,431 254,426 256.6,413.6 259.4,415.9 262,396.2 264.5,374.9 267.3,353.6 269.8,382 272.8,372.2 275.2,396.7 278.2,398.7 280.8,381.5 283.6,383 286.3,397.2 289.2,398.7 291.9,385 294.8,376.6 297.3,401.6 300.2,388.4 302.9,395.8 305.6,400.7 308.6,390.4 311,378.1 313.8,386.9 316.7,384 319.4,414.9" fill="none" stroke="#000" stroke-width="2.4" stroke-linejoin="round"/>
<circle cx="58.9" cy="428.8" r="1.5" fill="#000"/>
<circle cx="61.7" cy="431.6" r="1.5" fill="#000"/>
<circle cx="65.1" cy="422" r="1.5" fill="#000"/>
<circle cx="67.3" cy="427.6" r="1.5" fill="#000"/>
<circle cx="70.2" cy="432.1" r="1.5" fill="#000"/>
<circle cx="73" cy="430.4" r="1.5" fill="#000"/>
<circle cx="75.8" cy="435.5" r="1.5" fill="#000"/>
<circle cx="78.6" cy="431.6" r="1.5" fill="#000"/>
<circle cx="81.4" cy="415.9" r="1.5" fill="#000"/>
<circle cx="84.2" cy="419.8" r="1.5" fill="#000"/>
<circle cx="86.5" cy="425" r="1.5" fill="#000"/>
<circle cx="88.7" cy="430.4" r="1.5" fill="#000"/>
<circle cx="92" cy="428.8" r="1.5" fill="#000"/>
<circle cx="94.8" cy="428.8" r="1.5" fill="#000"/>
<circle cx="97.6" cy="432.1" r="1.5" fill="#000"/>
<circle cx="100.5" cy="426.5" r="1.5" fill="#000"/>
<circle cx="103.3" cy="423.2" r="1.5" fill="#000"/>
<circle cx="106.1" cy="437.7" r="1.5" fill="#000"/>
<circle cx="108.9" cy="435.5" r="1.5" fill="#000"/>
<circle cx="111.7" cy="433.3" r="1.5" fill="#000"/>
<circle cx="114.5" cy="431" r="1.5" fill="#000"/>
<circle cx="116.7" cy="413.6" r="1.5" fill="#000"/>
<circle cx="119.5" cy="429.3" r="1.5" fill="#000"/>
<circle cx="122.3" cy="417" r="1.5" fill="#000"/>
<circle cx="125.1" cy="415.9" r="1.5" fill="#000"/>
<circle cx="128" cy="420.3" r="1.5" fill="#000"/>
<circle cx="130.8" cy="407.4" r="1.5" fill="#000"/>
<circle cx="132.8" cy="386.1" r="1.5" fill="#000"/>
<circle cx="135.6" cy="358.6" r="1.5" fill="#000"/>
<circle cx="138.4" cy="369.8" r="1.5" fill="#000"/>
<circle cx="141.2" cy="374.3" r="1.5" fill="#000"/>
<circle cx="144" cy="382.2" r="1.5" fill="#000"/>
<circle cx="146.8" cy="380.5" r="1.5" fill="#000"/>
<circle cx="149.6" cy="379.4" r="1.5" fill="#000"/>
<circle cx="152.4" cy="387.2" r="1.5" fill="#000"/>
<circle cx="155.3" cy="386.1" r="1.5" fill="#000"/>
<circle cx="158.1" cy="396.8" r="1.5" fill="#000"/>
<circle cx="160.5" cy="385" r="1.5" fill="#000"/>
<circle cx="163.4" cy="390.6" r="1.5" fill="#000"/>
<circle cx="166.1" cy="384.4" r="1.5" fill="#000"/>
<circle cx="168.7" cy="400.7" r="1.5" fill="#000"/>
<circle cx="171.5" cy="400.1" r="1.5" fill="#000"/>
<circle cx="174.3" cy="394.5" r="1.5" fill="#000"/>
<circle cx="177.1" cy="389.5" r="1.5" fill="#000"/>
<circle cx="179.9" cy="382.7" r="1.5" fill="#000"/>
<circle cx="182.5" cy="366.5" r="1.5" fill="#000"/>
<circle cx="185" cy="390.6" r="1.5" fill="#000"/>
<circle cx="187.8" cy="398.5" r="1.5" fill="#000"/>
<circle cx="190.6" cy="417.5" r="1.5" fill="#000"/>
<circle cx="193.4" cy="428.8" r="1.5" fill="#000"/>
<circle cx="196.2" cy="419.2" r="1.5" fill="#000"/>
<circle cx="199" cy="426.5" r="1.5" fill="#000"/>
<circle cx="201.8" cy="417.5" r="1.5" fill="#000"/>
<circle cx="204.6" cy="422" r="1.5" fill="#000"/>
<circle cx="207.4" cy="426.5" r="1.5" fill="#000"/>
<circle cx="210" cy="439.4" r="1.5" fill="#000"/>
<circle cx="212.6" cy="423.2" r="1.5" fill="#000"/>
<circle cx="215.3" cy="431.6" r="1.5" fill="#000"/>
<circle cx="217.9" cy="428.8" r="1.5" fill="#000"/>
<circle cx="220.7" cy="421.5" r="1.5" fill="#000"/>
<circle cx="223.5" cy="431.6" r="1.5" fill="#000"/>
<circle cx="226.3" cy="422.6" r="1.5" fill="#000"/>
<circle cx="229.1" cy="408.6" r="1.5" fill="#000"/>
<circle cx="231.6" cy="430.4" r="1.5" fill="#000"/>
<circle cx="234.4" cy="440.5" r="1.5" fill="#000"/>
<circle cx="237.3" cy="436.1" r="1.5" fill="#000"/>
<circle cx="240" cy="437.7" r="1.5" fill="#000"/>
<circle cx="242.9" cy="428.8" r="1.5" fill="#000"/>
<circle cx="245.6" cy="431" r="1.5" fill="#000"/>
<circle cx="248.5" cy="426" r="1.5" fill="#000"/>
<circle cx="251.2" cy="431" r="1.5" fill="#000"/>
<circle cx="254" cy="426" r="1.5" fill="#000"/>
<circle cx="256.6" cy="413.6" r="1.5" fill="#000"/>
<circle cx="259.4" cy="415.9" r="1.5" fill="#000"/>
<circle cx="262" cy="396.2" r="1.5" fill="#000"/>
<circle cx="264.5" cy="374.9" r="1.5" fill="#000"/>
<circle cx="267.3" cy="353.6" r="1.5" fill="#000"/>
<circle cx="269.8" cy="382" r="1.5" fill="#000"/>
<circle cx="272.8" cy="372.2" r="1.5" fill="#000"/>
<circle cx="275.2" cy="396.7" r="1.5" fill="#000"/>
<circle cx="278.2" cy="398.7" r="1.5" fill="#000"/>
<circle cx="280.8" cy="381.5" r="1.5" fill="#000"/>
<circle cx="283.6" cy="383" r="1.5" fill="#000"/>
<circle cx="286.3" cy="397.2" r="1.5" fill="#000"/>
<circle cx="289.2" cy="398.7" r="1.5" fill="#000"/>
<circle cx="291.9" cy="385" r="1.5" fill="#000"/>
<circle cx="294.8" cy="376.6" r="1.5" fill="#000"/>
<circle cx="297.3" cy="401.6" r="1.5" fill="#000"/>
<circle cx="300.2" cy="388.4" r="1.5" fill="#000"/>
<circle cx="302.9" cy="395.8" r="1.5" fill="#000"/>
<circle cx="305.6" cy="400.7" r="1.5" fill="#000"/>
<circle cx="308.6" cy="390.4" r="1.5" fill="#000"/>
<circle cx="311" cy="378.1" r="1.5" fill="#000"/>
<circle cx="313.8" cy="386.9" r="1.5" fill="#000"/>
<circle cx="316.7" cy="384" r="1.5" fill="#000"/>
<circle cx="319.4" cy="414.9" r="1.5" fill="#000"/>
<line x1="58.2" y1="321.6" x2="58.2" y2="487.3" stroke="#000" stroke-width="1.8" stroke-linecap="butt"/>
<line x1="57.3" y1="486.5" x2="320.8" y2="486.5" stroke="#000" stroke-width="1.8" stroke-linecap="butt"/>
<line x1="58.4" y1="486.5" x2="58.4" y2="489.8" stroke="#000" stroke-width="1.5" stroke-linecap="butt"/>
<line x1="66.6" y1="486.5" x2="66.6" y2="489.8" stroke="#000" stroke-width="1.5" stroke-linecap="butt"/>
<line x1="74.8" y1="486.5" x2="74.8" y2="489.8" stroke="#000" stroke-width="1.5" stroke-linecap="butt"/>
<line x1="83" y1="486.5" x2="83" y2="489.8" stroke="#000" stroke-width="1.5" stroke-linecap="butt"/>
<line x1="91.2" y1="486.5" x2="91.2" y2="489.8" stroke="#000" stroke-width="1.5" stroke-linecap="butt"/>
<line x1="99.4" y1="486.5" x2="99.4" y2="489.8" stroke="#000" stroke-width="1.5" stroke-linecap="butt"/>
<line x1="107.6" y1="486.5" x2="107.6" y2="489.8" stroke="#000" stroke-width="1.5" stroke-linecap="butt"/>
<line x1="115.8" y1="486.5" x2="115.8" y2="489.8" stroke="#000" stroke-width="1.5" stroke-linecap="butt"/>
<line x1="124" y1="486.5" x2="124" y2="489.8" stroke="#000" stroke-width="1.5" stroke-linecap="butt"/>
<line x1="132.2" y1="486.5" x2="132.2" y2="489.8" stroke="#000" stroke-width="1.5" stroke-linecap="butt"/>
<line x1="140.4" y1="486.5" x2="140.4" y2="489.8" stroke="#000" stroke-width="1.5" stroke-linecap="butt"/>
<line x1="148.6" y1="486.5" x2="148.6" y2="489.8" stroke="#000" stroke-width="1.5" stroke-linecap="butt"/>
<line x1="156.8" y1="486.5" x2="156.8" y2="489.8" stroke="#000" stroke-width="1.5" stroke-linecap="butt"/>
<line x1="165" y1="486.5" x2="165" y2="489.8" stroke="#000" stroke-width="1.5" stroke-linecap="butt"/>
<line x1="173.2" y1="486.5" x2="173.2" y2="489.8" stroke="#000" stroke-width="1.5" stroke-linecap="butt"/>
<line x1="181.4" y1="486.5" x2="181.4" y2="489.8" stroke="#000" stroke-width="1.5" stroke-linecap="butt"/>
<line x1="189.6" y1="486.5" x2="189.6" y2="489.8" stroke="#000" stroke-width="1.5" stroke-linecap="butt"/>
<line x1="197.8" y1="486.5" x2="197.8" y2="489.8" stroke="#000" stroke-width="1.5" stroke-linecap="butt"/>
<line x1="206" y1="486.5" x2="206" y2="489.8" stroke="#000" stroke-width="1.5" stroke-linecap="butt"/>
<line x1="214.2" y1="486.5" x2="214.2" y2="489.8" stroke="#000" stroke-width="1.5" stroke-linecap="butt"/>
<line x1="222.4" y1="486.5" x2="222.4" y2="489.8" stroke="#000" stroke-width="1.5" stroke-linecap="butt"/>
<line x1="230.6" y1="486.5" x2="230.6" y2="489.8" stroke="#000" stroke-width="1.5" stroke-linecap="butt"/>
<line x1="238.8" y1="486.5" x2="238.8" y2="489.8" stroke="#000" stroke-width="1.5" stroke-linecap="butt"/>
<line x1="247" y1="486.5" x2="247" y2="489.8" stroke="#000" stroke-width="1.5" stroke-linecap="butt"/>
<line x1="255.2" y1="486.5" x2="255.2" y2="489.8" stroke="#000" stroke-width="1.5" stroke-linecap="butt"/>
<line x1="263.4" y1="486.5" x2="263.4" y2="489.8" stroke="#000" stroke-width="1.5" stroke-linecap="butt"/>
<line x1="271.6" y1="486.5" x2="271.6" y2="489.8" stroke="#000" stroke-width="1.5" stroke-linecap="butt"/>
<line x1="279.8" y1="486.5" x2="279.8" y2="489.8" stroke="#000" stroke-width="1.5" stroke-linecap="butt"/>
<line x1="288" y1="486.5" x2="288" y2="489.8" stroke="#000" stroke-width="1.5" stroke-linecap="butt"/>
<line x1="296.2" y1="486.5" x2="296.2" y2="489.8" stroke="#000" stroke-width="1.5" stroke-linecap="butt"/>
<line x1="304.4" y1="486.5" x2="304.4" y2="489.8" stroke="#000" stroke-width="1.5" stroke-linecap="butt"/>
<line x1="312.6" y1="486.5" x2="312.6" y2="489.8" stroke="#000" stroke-width="1.5" stroke-linecap="butt"/>
<line x1="53.8" y1="486.5" x2="58.2" y2="486.5" stroke="#000" stroke-width="1.5" stroke-linecap="butt"/>
<line x1="56" y1="481.04" x2="58.2" y2="481.04" stroke="#000" stroke-width="1.1" stroke-linecap="butt"/>
<line x1="56" y1="475.58" x2="58.2" y2="475.58" stroke="#000" stroke-width="1.1" stroke-linecap="butt"/>
<line x1="56" y1="470.12" x2="58.2" y2="470.12" stroke="#000" stroke-width="1.1" stroke-linecap="butt"/>
<line x1="56" y1="464.66" x2="58.2" y2="464.66" stroke="#000" stroke-width="1.1" stroke-linecap="butt"/>
<line x1="56" y1="459.2" x2="58.2" y2="459.2" stroke="#000" stroke-width="1.1" stroke-linecap="butt"/>
<line x1="56" y1="453.74" x2="58.2" y2="453.74" stroke="#000" stroke-width="1.1" stroke-linecap="butt"/>
<line x1="56" y1="448.28" x2="58.2" y2="448.28" stroke="#000" stroke-width="1.1" stroke-linecap="butt"/>
<line x1="56" y1="442.82" x2="58.2" y2="442.82" stroke="#000" stroke-width="1.1" stroke-linecap="butt"/>
<line x1="56" y1="437.36" x2="58.2" y2="437.36" stroke="#000" stroke-width="1.1" stroke-linecap="butt"/>
<line x1="53.8" y1="431.9" x2="58.2" y2="431.9" stroke="#000" stroke-width="1.5" stroke-linecap="butt"/>
<line x1="56" y1="426.44" x2="58.2" y2="426.44" stroke="#000" stroke-width="1.1" stroke-linecap="butt"/>
<line x1="56" y1="420.98" x2="58.2" y2="420.98" stroke="#000" stroke-width="1.1" stroke-linecap="butt"/>
<line x1="56" y1="415.52" x2="58.2" y2="415.52" stroke="#000" stroke-width="1.1" stroke-linecap="butt"/>
<line x1="56" y1="410.06" x2="58.2" y2="410.06" stroke="#000" stroke-width="1.1" stroke-linecap="butt"/>
<line x1="56" y1="404.6" x2="58.2" y2="404.6" stroke="#000" stroke-width="1.1" stroke-linecap="butt"/>
<line x1="56" y1="399.14" x2="58.2" y2="399.14" stroke="#000" stroke-width="1.1" stroke-linecap="butt"/>
<line x1="56" y1="393.68" x2="58.2" y2="393.68" stroke="#000" stroke-width="1.1" stroke-linecap="butt"/>
<line x1="56" y1="388.22" x2="58.2" y2="388.22" stroke="#000" stroke-width="1.1" stroke-linecap="butt"/>
<line x1="56" y1="382.76" x2="58.2" y2="382.76" stroke="#000" stroke-width="1.1" stroke-linecap="butt"/>
<line x1="53.8" y1="377.3" x2="58.2" y2="377.3" stroke="#000" stroke-width="1.5" stroke-linecap="butt"/>
<line x1="56" y1="371.84" x2="58.2" y2="371.84" stroke="#000" stroke-width="1.1" stroke-linecap="butt"/>
<line x1="56" y1="366.38" x2="58.2" y2="366.38" stroke="#000" stroke-width="1.1" stroke-linecap="butt"/>
<line x1="56" y1="360.92" x2="58.2" y2="360.92" stroke="#000" stroke-width="1.1" stroke-linecap="butt"/>
<line x1="56" y1="355.46" x2="58.2" y2="355.46" stroke="#000" stroke-width="1.1" stroke-linecap="butt"/>
<line x1="56" y1="350" x2="58.2" y2="350" stroke="#000" stroke-width="1.1" stroke-linecap="butt"/>
<line x1="56" y1="344.54" x2="58.2" y2="344.54" stroke="#000" stroke-width="1.1" stroke-linecap="butt"/>
<line x1="56" y1="339.08" x2="58.2" y2="339.08" stroke="#000" stroke-width="1.1" stroke-linecap="butt"/>
<line x1="56" y1="333.62" x2="58.2" y2="333.62" stroke="#000" stroke-width="1.1" stroke-linecap="butt"/>
<line x1="56" y1="328.16" x2="58.2" y2="328.16" stroke="#000" stroke-width="1.1" stroke-linecap="butt"/>
<line x1="53.8" y1="322.7" x2="58.2" y2="322.7" stroke="#000" stroke-width="1.5" stroke-linecap="butt"/>
<text x="33" y="491.95" font-size="12" fill="#000">150</text>
<text x="33" y="437.35" font-size="12" fill="#000">200</text>
<text x="33" y="382.75" font-size="12" fill="#000">250</text>
<text x="33" y="328.15" font-size="12" fill="#000">300</text>
<text transform="translate(25,494.3) rotate(-90)" font-size="14.05">kcal/day/lean mass(kg)^0.75</text>
<line x1="69" y1="337" x2="79.7" y2="337" stroke="#000" stroke-width="2.6" stroke-linecap="butt"/>
<ellipse cx="74.4" cy="337" rx="2.6" ry="2.2" fill="#000"/>
<line x1="69" y1="350.9" x2="79.7" y2="350.9" stroke="#5599f2" stroke-width="2.6" stroke-linecap="butt"/>
<rect x="72.2" y="348.7" width="4.4" height="4.4" fill="#5599f2"/>
<text x="82.9" y="340.8" font-size="16.7" fill="#000">ctrl</text>
<text x="83.5" y="356.2" font-size="16.9" fill="#000">sOE</text>
<text x="348" y="286" font-size="24" font-weight="bold" fill="#000">d</text>
<text x="423.8" y="313.6" font-size="20.8" fill="#000">sOE HFD Food Intake</text>
<rect x="410.3" y="335" width="90.64" height="56.5" fill="none" stroke="#000" stroke-width="1.6"/>
<rect x="410.3" y="417.3" width="125.5" height="55.7" fill="none" stroke="#7f7f7f" stroke-width="1.6"/>
<line x1="491.64" y1="363.4" x2="509.07" y2="363.4" stroke="#000" stroke-width="1.6" stroke-linecap="butt"/>
<line x1="492.4" y1="349.6" x2="492.4" y2="377.6" stroke="#000" stroke-width="1.8" stroke-linecap="butt"/>
<line x1="509" y1="349.6" x2="509" y2="377.6" stroke="#000" stroke-width="1.8" stroke-linecap="butt"/>
<ellipse cx="463.6" cy="363.4" rx="1.9" ry="2.4" fill="#000"/>
<ellipse cx="484.4" cy="363.4" rx="1.9" ry="2.4" fill="#000"/>
<ellipse cx="494" cy="363.4" rx="1.9" ry="2.4" fill="#000"/>
<ellipse cx="503.6" cy="363.4" rx="1.9" ry="2.4" fill="#000"/>
<ellipse cx="515" cy="363.4" rx="1.9" ry="2.4" fill="#000"/>
<ellipse cx="521.6" cy="361.6" rx="1.9" ry="2.4" fill="#000"/>
<ellipse cx="521.6" cy="365.8" rx="1.9" ry="2.4" fill="#000"/>
<line x1="527.4" y1="445" x2="544" y2="445" stroke="#7f7f7f" stroke-width="1.6" stroke-linecap="butt"/>
<line x1="527.4" y1="431" x2="527.4" y2="458.4" stroke="#7f7f7f" stroke-width="1.8" stroke-linecap="butt"/>
<line x1="544" y1="431" x2="544" y2="458.4" stroke="#7f7f7f" stroke-width="1.8" stroke-linecap="butt"/>
<rect x="510.8" y="442.6" width="3.2" height="4.2" fill="#5599f2"/>
<rect x="515.6" y="440.2" width="3.2" height="9.6" fill="#5599f2"/>
<rect x="538.8" y="440.2" width="3.4" height="9.6" fill="#5599f2"/>
<rect x="543.1" y="442" width="3.9" height="5.4" fill="#5599f2"/>
<rect x="573.6" y="442.6" width="3.6" height="4.8" fill="#5599f2"/>
<text x="586.05" y="454.25" font-size="17.5" font-weight="bold" letter-spacing="1.4" fill="#000">*</text>
<line x1="410.3" y1="322.4" x2="410.3" y2="487.2" stroke="#000" stroke-width="1.8" stroke-linecap="butt"/>
<line x1="409.5" y1="486.2" x2="643" y2="486.2" stroke="#000" stroke-width="1.8" stroke-linecap="butt"/>
<line x1="410.3" y1="486.2" x2="410.3" y2="490" stroke="#000" stroke-width="1.5" stroke-linecap="butt"/>
<line x1="416.11" y1="486.2" x2="416.11" y2="488.5" stroke="#000" stroke-width="1.1" stroke-linecap="butt"/>
<line x1="421.92" y1="486.2" x2="421.92" y2="488.5" stroke="#000" stroke-width="1.1" stroke-linecap="butt"/>
<line x1="427.73" y1="486.2" x2="427.73" y2="488.5" stroke="#000" stroke-width="1.1" stroke-linecap="butt"/>
<line x1="433.54" y1="486.2" x2="433.54" y2="488.5" stroke="#000" stroke-width="1.1" stroke-linecap="butt"/>
<line x1="439.35" y1="486.2" x2="439.35" y2="488.5" stroke="#000" stroke-width="1.1" stroke-linecap="butt"/>
<line x1="445.16" y1="486.2" x2="445.16" y2="488.5" stroke="#000" stroke-width="1.1" stroke-linecap="butt"/>
<line x1="450.97" y1="486.2" x2="450.97" y2="488.5" stroke="#000" stroke-width="1.1" stroke-linecap="butt"/>
<line x1="456.78" y1="486.2" x2="456.78" y2="488.5" stroke="#000" stroke-width="1.1" stroke-linecap="butt"/>
<line x1="462.59" y1="486.2" x2="462.59" y2="488.5" stroke="#000" stroke-width="1.1" stroke-linecap="butt"/>
<line x1="468.4" y1="486.2" x2="468.4" y2="490" stroke="#000" stroke-width="1.5" stroke-linecap="butt"/>
<line x1="474.21" y1="486.2" x2="474.21" y2="488.5" stroke="#000" stroke-width="1.1" stroke-linecap="butt"/>
<line x1="480.02" y1="486.2" x2="480.02" y2="488.5" stroke="#000" stroke-width="1.1" stroke-linecap="butt"/>
<line x1="485.83" y1="486.2" x2="485.83" y2="488.5" stroke="#000" stroke-width="1.1" stroke-linecap="butt"/>
<line x1="491.64" y1="486.2" x2="491.64" y2="488.5" stroke="#000" stroke-width="1.1" stroke-linecap="butt"/>
<line x1="497.45" y1="486.2" x2="497.45" y2="488.5" stroke="#000" stroke-width="1.1" stroke-linecap="butt"/>
<line x1="503.26" y1="486.2" x2="503.26" y2="488.5" stroke="#000" stroke-width="1.1" stroke-linecap="butt"/>
<line x1="509.07" y1="486.2" x2="509.07" y2="488.5" stroke="#000" stroke-width="1.1" stroke-linecap="butt"/>
<line x1="514.88" y1="486.2" x2="514.88" y2="488.5" stroke="#000" stroke-width="1.1" stroke-linecap="butt"/>
<line x1="520.69" y1="486.2" x2="520.69" y2="488.5" stroke="#000" stroke-width="1.1" stroke-linecap="butt"/>
<line x1="526.5" y1="486.2" x2="526.5" y2="490" stroke="#000" stroke-width="1.5" stroke-linecap="butt"/>
<line x1="532.31" y1="486.2" x2="532.31" y2="488.5" stroke="#000" stroke-width="1.1" stroke-linecap="butt"/>
<line x1="538.12" y1="486.2" x2="538.12" y2="488.5" stroke="#000" stroke-width="1.1" stroke-linecap="butt"/>
<line x1="543.93" y1="486.2" x2="543.93" y2="488.5" stroke="#000" stroke-width="1.1" stroke-linecap="butt"/>
<line x1="549.74" y1="486.2" x2="549.74" y2="488.5" stroke="#000" stroke-width="1.1" stroke-linecap="butt"/>
<line x1="555.55" y1="486.2" x2="555.55" y2="488.5" stroke="#000" stroke-width="1.1" stroke-linecap="butt"/>
<line x1="561.36" y1="486.2" x2="561.36" y2="488.5" stroke="#000" stroke-width="1.1" stroke-linecap="butt"/>
<line x1="567.17" y1="486.2" x2="567.17" y2="488.5" stroke="#000" stroke-width="1.1" stroke-linecap="butt"/>
<line x1="572.98" y1="486.2" x2="572.98" y2="488.5" stroke="#000" stroke-width="1.1" stroke-linecap="butt"/>
<line x1="578.79" y1="486.2" x2="578.79" y2="488.5" stroke="#000" stroke-width="1.1" stroke-linecap="butt"/>
<line x1="584.6" y1="486.2" x2="584.6" y2="490" stroke="#000" stroke-width="1.5" stroke-linecap="butt"/>
<line x1="590.41" y1="486.2" x2="590.41" y2="488.5" stroke="#000" stroke-width="1.1" stroke-linecap="butt"/>
<line x1="596.22" y1="486.2" x2="596.22" y2="488.5" stroke="#000" stroke-width="1.1" stroke-linecap="butt"/>
<line x1="602.03" y1="486.2" x2="602.03" y2="488.5" stroke="#000" stroke-width="1.1" stroke-linecap="butt"/>
<line x1="607.84" y1="486.2" x2="607.84" y2="488.5" stroke="#000" stroke-width="1.1" stroke-linecap="butt"/>
<line x1="613.65" y1="486.2" x2="613.65" y2="488.5" stroke="#000" stroke-width="1.1" stroke-linecap="butt"/>
<line x1="619.46" y1="486.2" x2="619.46" y2="488.5" stroke="#000" stroke-width="1.1" stroke-linecap="butt"/>
<line x1="625.27" y1="486.2" x2="625.27" y2="488.5" stroke="#000" stroke-width="1.1" stroke-linecap="butt"/>
<line x1="631.08" y1="486.2" x2="631.08" y2="488.5" stroke="#000" stroke-width="1.1" stroke-linecap="butt"/>
<line x1="636.89" y1="486.2" x2="636.89" y2="488.5" stroke="#000" stroke-width="1.1" stroke-linecap="butt"/>
<line x1="642.7" y1="486.2" x2="642.7" y2="490" stroke="#000" stroke-width="1.5" stroke-linecap="butt"/>
<text x="402.3" y="503.8" font-size="13.2" fill="#000">1.0</text>
<text x="460.4" y="503.8" font-size="13.2" fill="#000">1.5</text>
<text x="518.65" y="503.8" font-size="13.2" fill="#000">2.0</text>
<text x="576.75" y="503.8" font-size="13.2" fill="#000">2.5</text>
<text x="634.95" y="503.8" font-size="13.2" fill="#000">3.0</text>
<line x1="408.2" y1="363.4" x2="410.3" y2="363.4" stroke="#000" stroke-width="1.2" stroke-linecap="butt"/>
<line x1="408.2" y1="444.6" x2="410.3" y2="444.6" stroke="#000" stroke-width="1.2" stroke-linecap="butt"/>
<text x="380.7" y="368.7" font-size="16.9" fill="#000">ctrl</text>
<text x="371.4" y="449.3" font-size="16.8" fill="#000">sOE</text>
<text x="441.6" y="522.4" font-size="15.6" fill="#000">Food Consumed (g/day)</text>
<text x="-0.3" y="554.4" font-size="24" font-weight="bold" fill="#000">e</text>
<text x="62" y="578.4" font-size="20.8" fill="#000">sOE HFD Activity Data</text>
<line x1="78.45" y1="706.4" x2="78.45" y2="708.6" stroke="#000" stroke-width="1.7" stroke-linecap="butt"/>
<line x1="74.95" y1="706.4" x2="81.95" y2="706.4" stroke="#000" stroke-width="1.7" stroke-linecap="butt"/>
<rect x="71.75" y="709.35" width="13.4" height="56.65" fill="#7f7f7f" stroke="#000" stroke-width="1.5"/>
<line x1="93.35" y1="679" x2="93.35" y2="687.6" stroke="#000" stroke-width="1.7" stroke-linecap="butt"/>
<line x1="89.85" y1="679" x2="96.85" y2="679" stroke="#000" stroke-width="1.7" stroke-linecap="butt"/>
<rect x="86.65" y="688.35" width="13.4" height="77.65" fill="#559ef8" stroke="#000" stroke-width="1.5"/>
<rect x="101.55" y="752.75" width="13.4" height="13.25" fill="#000000" stroke="#000" stroke-width="1.5"/>
<line x1="123.15" y1="740" x2="123.15" y2="746.4" stroke="#000" stroke-width="1.7" stroke-linecap="butt"/>
<line x1="119.65" y1="740" x2="126.65" y2="740" stroke="#000" stroke-width="1.7" stroke-linecap="butt"/>
<rect x="116.45" y="747.15" width="13.4" height="18.85" fill="#c7def8" stroke="#000" stroke-width="1.5"/>
<line x1="152.65" y1="708" x2="152.65" y2="710" stroke="#000" stroke-width="1.7" stroke-linecap="butt"/>
<line x1="149.15" y1="708" x2="156.15" y2="708" stroke="#000" stroke-width="1.7" stroke-linecap="butt"/>
<rect x="145.95" y="710.75" width="13.4" height="55.25" fill="#7f7f7f" stroke="#000" stroke-width="1.5"/>
<line x1="167.55" y1="681" x2="167.55" y2="689" stroke="#000" stroke-width="1.7" stroke-linecap="butt"/>
<line x1="164.05" y1="681" x2="171.05" y2="681" stroke="#000" stroke-width="1.7" stroke-linecap="butt"/>
<rect x="160.85" y="689.75" width="13.4" height="76.25" fill="#559ef8" stroke="#000" stroke-width="1.5"/>
<rect x="175.75" y="752.75" width="13.4" height="13.25" fill="#000000" stroke="#000" stroke-width="1.5"/>
<line x1="197.35" y1="739.6" x2="197.35" y2="746" stroke="#000" stroke-width="1.7" stroke-linecap="butt"/>
<line x1="193.85" y1="739.6" x2="200.85" y2="739.6" stroke="#000" stroke-width="1.7" stroke-linecap="butt"/>
<rect x="190.65" y="746.75" width="13.4" height="19.25" fill="#c7def8" stroke="#000" stroke-width="1.5"/>
<line x1="226.85" y1="640" x2="226.85" y2="647.9" stroke="#000" stroke-width="1.7" stroke-linecap="butt"/>
<line x1="223.35" y1="640" x2="230.35" y2="640" stroke="#000" stroke-width="1.7" stroke-linecap="butt"/>
<rect x="220.15" y="648.65" width="13.4" height="117.35" fill="#7f7f7f" stroke="#000" stroke-width="1.5"/>
<line x1="241.75" y1="613" x2="241.75" y2="619.5" stroke="#000" stroke-width="1.7" stroke-linecap="butt"/>
<line x1="238.25" y1="613" x2="245.25" y2="613" stroke="#000" stroke-width="1.7" stroke-linecap="butt"/>
<rect x="235.05" y="620.25" width="13.4" height="145.75" fill="#559ef8" stroke="#000" stroke-width="1.5"/>
<line x1="256.65" y1="731.4" x2="256.65" y2="734.2" stroke="#000" stroke-width="1.7" stroke-linecap="butt"/>
<line x1="253.15" y1="731.4" x2="260.15" y2="731.4" stroke="#000" stroke-width="1.7" stroke-linecap="butt"/>
<rect x="249.95" y="734.95" width="13.4" height="31.05" fill="#000000" stroke="#000" stroke-width="1.5"/>
<line x1="271.55" y1="713" x2="271.55" y2="724.5" stroke="#000" stroke-width="1.7" stroke-linecap="butt"/>
<line x1="268.05" y1="713" x2="275.05" y2="713" stroke="#000" stroke-width="1.7" stroke-linecap="butt"/>
<rect x="264.85" y="725.25" width="13.4" height="40.75" fill="#c7def8" stroke="#000" stroke-width="1.5"/>
<text x="90.55" y="681.15" font-size="17.5" font-weight="bold" letter-spacing="1.4" fill="#000">*</text>
<text x="161.05" y="683.15" font-size="17.5" font-weight="bold" letter-spacing="1.4" fill="#000">**</text>
<text x="238.55" y="615.35" font-size="17.5" font-weight="bold" letter-spacing="1.4" fill="#000">*</text>
<line x1="64.4" y1="600" x2="64.4" y2="766.75" stroke="#000" stroke-width="1.5" stroke-linecap="butt"/>
<line x1="64.4" y1="766" x2="285.4" y2="766" stroke="#000" stroke-width="1.5" stroke-linecap="butt"/>
<text x="51.1" y="771.45" font-size="12" fill="#000">0</text>
<line x1="59.8" y1="766" x2="64.4" y2="766" stroke="#000" stroke-width="1.5" stroke-linecap="butt"/>
<text x="44.4" y="743.85" font-size="12" fill="#000">20</text>
<line x1="59.8" y1="738.4" x2="64.4" y2="738.4" stroke="#000" stroke-width="1.5" stroke-linecap="butt"/>
<text x="44.4" y="716.25" font-size="12" fill="#000">40</text>
<line x1="59.8" y1="710.8" x2="64.4" y2="710.8" stroke="#000" stroke-width="1.5" stroke-linecap="butt"/>
<text x="44.4" y="688.65" font-size="12" fill="#000">60</text>
<line x1="59.8" y1="683.2" x2="64.4" y2="683.2" stroke="#000" stroke-width="1.5" stroke-linecap="butt"/>
<text x="44.4" y="661.05" font-size="12" fill="#000">80</text>
<line x1="59.8" y1="655.6" x2="64.4" y2="655.6" stroke="#000" stroke-width="1.5" stroke-linecap="butt"/>
<text x="37.8" y="633.45" font-size="12" fill="#000">100</text>
<line x1="59.8" y1="628" x2="64.4" y2="628" stroke="#000" stroke-width="1.5" stroke-linecap="butt"/>
<text x="37.8" y="605.85" font-size="12" fill="#000">120</text>
<line x1="59.8" y1="600.4" x2="64.4" y2="600.4" stroke="#000" stroke-width="1.5" stroke-linecap="butt"/>
<line x1="100.6" y1="766" x2="100.6" y2="770.3" stroke="#000" stroke-width="1.5" stroke-linecap="butt"/>
<line x1="175.4" y1="766" x2="175.4" y2="770.3" stroke="#000" stroke-width="1.5" stroke-linecap="butt"/>
<line x1="248.9" y1="766" x2="248.9" y2="770.3" stroke="#000" stroke-width="1.5" stroke-linecap="butt"/>
<text x="61.6" y="788.8" font-size="17.2" fill="#000">X-breaks</text>
<text x="137.2" y="788.8" font-size="17.8" fill="#000">Y-breaks</text>
<text x="214.4" y="788.8" font-size="17.2" fill="#000">All Meters</text>
<text transform="translate(31.2,792.85) rotate(-90)" font-size="14.05">Beam breaks/Distance Traveled (m)</text>
<rect x="73.2" y="592.1" width="14.6" height="9.2" fill="#7f7f7f" stroke="#000" stroke-width="1.5"/>
<rect x="73.2" y="609.7" width="14.6" height="9.6" fill="#559ef8" stroke="#000" stroke-width="1.5"/>
<rect x="73.2" y="627.1" width="14.6" height="10.2" fill="#000000" stroke="#000" stroke-width="1.5"/>
<rect x="73.2" y="644.7" width="14.6" height="10.2" fill="#c7def8" stroke="#000" stroke-width="1.5"/>
<text x="94.3" y="601" font-size="17.4" fill="#000">ctrl Nighttime</text>
<text x="92.5" y="619" font-size="17.4" fill="#000">sOE Nighttime</text>
<text x="92.3" y="636.6" font-size="17.4" fill="#000">ctrl Daytime</text>
<text x="92.5" y="654.4" font-size="17.4" fill="#000">sOE Daytime</text>
<text x="364.6" y="553.6" font-size="24" font-weight="bold" fill="#000">f</text>
<text x="397.4" y="579" font-size="20.8" fill="#000">sOE HFD iWAT Thermogenic Markers</text>
<line x1="425.5" y1="683.58" x2="425.5" y2="699.3" stroke="#000" stroke-width="1.7" stroke-linecap="butt"/>
<line x1="421.75" y1="683.58" x2="429.25" y2="683.58" stroke="#000" stroke-width="1.7" stroke-linecap="butt"/>
<rect x="418.75" y="700.05" width="13.5" height="65.85" fill="#000" stroke="#000" stroke-width="1.5"/>
<line x1="440.25" y1="704.43" x2="440.25" y2="725.61" stroke="#000" stroke-width="1.7" stroke-linecap="butt"/>
<line x1="436.5" y1="704.43" x2="444" y2="704.43" stroke="#000" stroke-width="1.7" stroke-linecap="butt"/>
<rect x="433.75" y="726.36" width="13" height="39.54" fill="#559ef8" stroke="#000" stroke-width="1.5"/>
<line x1="469.5" y1="682.65" x2="469.5" y2="699.3" stroke="#000" stroke-width="1.7" stroke-linecap="butt"/>
<line x1="465.75" y1="682.65" x2="473.25" y2="682.65" stroke="#000" stroke-width="1.7" stroke-linecap="butt"/>
<rect x="462.75" y="700.05" width="13.5" height="65.85" fill="#000" stroke="#000" stroke-width="1.5"/>
<line x1="484.25" y1="746.59" x2="484.25" y2="750.38" stroke="#000" stroke-width="1.7" stroke-linecap="butt"/>
<line x1="480.5" y1="746.59" x2="488" y2="746.59" stroke="#000" stroke-width="1.7" stroke-linecap="butt"/>
<rect x="477.75" y="751.13" width="13" height="14.77" fill="#559ef8" stroke="#000" stroke-width="1.5"/>
<line x1="513.5" y1="692.97" x2="513.5" y2="699.3" stroke="#000" stroke-width="1.7" stroke-linecap="butt"/>
<line x1="509.75" y1="692.97" x2="517.25" y2="692.97" stroke="#000" stroke-width="1.7" stroke-linecap="butt"/>
<rect x="506.75" y="700.05" width="13.5" height="65.85" fill="#000" stroke="#000" stroke-width="1.5"/>
<line x1="528.25" y1="724.01" x2="528.25" y2="729.6" stroke="#000" stroke-width="1.7" stroke-linecap="butt"/>
<line x1="524.5" y1="724.01" x2="532" y2="724.01" stroke="#000" stroke-width="1.7" stroke-linecap="butt"/>
<rect x="521.75" y="730.35" width="13" height="35.55" fill="#559ef8" stroke="#000" stroke-width="1.5"/>
<line x1="557.5" y1="694.64" x2="557.5" y2="699.3" stroke="#000" stroke-width="1.7" stroke-linecap="butt"/>
<line x1="553.75" y1="694.64" x2="561.25" y2="694.64" stroke="#000" stroke-width="1.7" stroke-linecap="butt"/>
<rect x="550.75" y="700.05" width="13.5" height="65.85" fill="#000" stroke="#000" stroke-width="1.5"/>
<line x1="572.25" y1="705.43" x2="572.25" y2="710.42" stroke="#000" stroke-width="1.7" stroke-linecap="butt"/>
<line x1="568.5" y1="705.43" x2="576" y2="705.43" stroke="#000" stroke-width="1.7" stroke-linecap="butt"/>
<rect x="565.75" y="711.17" width="13" height="54.73" fill="#559ef8" stroke="#000" stroke-width="1.5"/>
<line x1="601.5" y1="692.64" x2="601.5" y2="699.3" stroke="#000" stroke-width="1.7" stroke-linecap="butt"/>
<line x1="597.75" y1="692.64" x2="605.25" y2="692.64" stroke="#000" stroke-width="1.7" stroke-linecap="butt"/>
<rect x="594.75" y="700.05" width="13.5" height="65.85" fill="#000" stroke="#000" stroke-width="1.5"/>
<line x1="616.25" y1="735" x2="616.25" y2="737.4" stroke="#000" stroke-width="1.7" stroke-linecap="butt"/>
<line x1="612.5" y1="735" x2="620" y2="735" stroke="#000" stroke-width="1.7" stroke-linecap="butt"/>
<rect x="609.75" y="738.15" width="13" height="27.75" fill="#559ef8" stroke="#000" stroke-width="1.5"/>
<line x1="645.5" y1="692.97" x2="645.5" y2="699.3" stroke="#000" stroke-width="1.7" stroke-linecap="butt"/>
<line x1="641.75" y1="692.97" x2="649.25" y2="692.97" stroke="#000" stroke-width="1.7" stroke-linecap="butt"/>
<rect x="638.75" y="700.05" width="13.5" height="65.85" fill="#000" stroke="#000" stroke-width="1.5"/>
<line x1="660.25" y1="718.61" x2="660.25" y2="722.41" stroke="#000" stroke-width="1.7" stroke-linecap="butt"/>
<line x1="656.5" y1="718.61" x2="664" y2="718.61" stroke="#000" stroke-width="1.7" stroke-linecap="butt"/>
<rect x="653.75" y="723.16" width="13" height="42.74" fill="#559ef8" stroke="#000" stroke-width="1.5"/>
<line x1="689.5" y1="691.51" x2="689.5" y2="699.3" stroke="#000" stroke-width="1.7" stroke-linecap="butt"/>
<line x1="685.75" y1="691.51" x2="693.25" y2="691.51" stroke="#000" stroke-width="1.7" stroke-linecap="butt"/>
<rect x="682.75" y="700.05" width="13.5" height="65.85" fill="#000" stroke="#000" stroke-width="1.5"/>
<line x1="704.25" y1="612.72" x2="704.25" y2="621.78" stroke="#000" stroke-width="1.7" stroke-linecap="butt"/>
<line x1="700.5" y1="612.72" x2="708" y2="612.72" stroke="#000" stroke-width="1.7" stroke-linecap="butt"/>
<rect x="697.75" y="622.53" width="13" height="143.37" fill="#559ef8" stroke="#000" stroke-width="1.5"/>
<line x1="410.8" y1="599.5" x2="410.8" y2="766.65" stroke="#000" stroke-width="1.5" stroke-linecap="butt"/>
<line x1="410.8" y1="765.9" x2="719.3" y2="765.9" stroke="#000" stroke-width="1.5" stroke-linecap="butt"/>
<text x="385.2" y="771.45" font-size="12.3" fill="#000">0.0</text>
<line x1="406" y1="765.9" x2="410.8" y2="765.9" stroke="#000" stroke-width="1.5" stroke-linecap="butt"/>
<text x="385.3" y="738.15" font-size="12.3" fill="#000">0.5</text>
<line x1="406" y1="732.6" x2="410.8" y2="732.6" stroke="#000" stroke-width="1.5" stroke-linecap="butt"/>
<text x="385.2" y="704.85" font-size="12.3" fill="#000">1.0</text>
<line x1="406" y1="699.3" x2="410.8" y2="699.3" stroke="#000" stroke-width="1.5" stroke-linecap="butt"/>
<text x="385.3" y="671.5" font-size="12.3" fill="#000">1.5</text>
<line x1="406" y1="666" x2="410.8" y2="666" stroke="#000" stroke-width="1.5" stroke-linecap="butt"/>
<text x="385.2" y="638.25" font-size="12.3" fill="#000">2.0</text>
<line x1="406" y1="632.7" x2="410.8" y2="632.7" stroke="#000" stroke-width="1.5" stroke-linecap="butt"/>
<text x="385.3" y="604.95" font-size="12.3" fill="#000">2.5</text>
<line x1="406" y1="599.4" x2="410.8" y2="599.4" stroke="#000" stroke-width="1.5" stroke-linecap="butt"/>
<line x1="433" y1="765.9" x2="433" y2="771" stroke="#000" stroke-width="1.5" stroke-linecap="butt"/>
<line x1="477" y1="765.9" x2="477" y2="771" stroke="#000" stroke-width="1.5" stroke-linecap="butt"/>
<line x1="521" y1="765.9" x2="521" y2="771" stroke="#000" stroke-width="1.5" stroke-linecap="butt"/>
<line x1="565" y1="765.9" x2="565" y2="771" stroke="#000" stroke-width="1.5" stroke-linecap="butt"/>
<line x1="609" y1="765.9" x2="609" y2="771" stroke="#000" stroke-width="1.5" stroke-linecap="butt"/>
<line x1="653" y1="765.9" x2="653" y2="771" stroke="#000" stroke-width="1.5" stroke-linecap="butt"/>
<line x1="697" y1="765.9" x2="697" y2="771" stroke="#000" stroke-width="1.5" stroke-linecap="butt"/>
<text x="419.35" y="786" font-size="11.8" fill="#000">Ucp1</text>
<text x="460.85" y="786" font-size="11.8" fill="#000">Elovl3</text>
<text x="503.6" y="786" font-size="11.8" fill="#000">Cox8b</text>
<text x="548.75" y="786" font-size="11.8" fill="#000">Cidea</text>
<text x="592.1" y="786" font-size="11.8" fill="#000">Fgf21</text>
<text x="634.4" y="786" font-size="11.8" fill="#000">Pgc1α</text>
<text x="680.5" y="786" font-size="11.8" fill="#000">Adrb3</text>
<text x="481.55" y="748.75" font-size="17.5" font-weight="bold" letter-spacing="1.4" fill="#000">*</text>
<text x="525.15" y="727.35" font-size="17.5" font-weight="bold" letter-spacing="1.4" fill="#000">*</text>
<text x="568.55" y="708.15" font-size="17.5" font-weight="bold" letter-spacing="1.4" fill="#000">*</text>
<text x="657.15" y="721.15" font-size="17.5" font-weight="bold" letter-spacing="1.4" fill="#000">*</text>
<text x="598.75" y="692.95" font-size="17.5" font-weight="bold" letter-spacing="1.4" fill="#000">***</text>
<line x1="599" y1="688.8" x2="621.6" y2="688.8" stroke="#000" stroke-width="1.3" stroke-linecap="butt"/>
<text x="688.55" y="614.25" font-size="17.5" font-weight="bold" letter-spacing="1.4" fill="#000">****</text>
<text transform="translate(378.6,771.6) rotate(-90)" font-size="14.05">Relative Expression/Control</text>
<rect x="421.6" y="600.6" width="17" height="12.3" fill="#000"/>
<rect x="422.35" y="617.35" width="15.5" height="10.5" fill="#559ef8" stroke="#000" stroke-width="1.5"/>
<text x="444.1" y="609.7" font-size="17.3" fill="#000">ctrl</text>
<text x="444.5" y="627.8" font-size="16.8" fill="#000">sOE</text>
<text x="0.6" y="835.5" font-size="24" font-weight="bold" fill="#000">g</text>
<text x="38.4" y="861" font-size="20.8" fill="#000">sOE HFD BAT Thermogenic Markers</text>
<line x1="75.85" y1="959.68" x2="75.85" y2="963.5" stroke="#000" stroke-width="1.7" stroke-linecap="butt"/>
<line x1="72.6" y1="959.68" x2="79.1" y2="959.68" stroke="#000" stroke-width="1.7" stroke-linecap="butt"/>
<rect x="69.75" y="964.25" width="12.2" height="82.35" fill="#000" stroke="#000" stroke-width="1.5"/>
<line x1="89.2" y1="940.23" x2="89.2" y2="945.55" stroke="#000" stroke-width="1.7" stroke-linecap="butt"/>
<line x1="85.95" y1="940.23" x2="92.45" y2="940.23" stroke="#000" stroke-width="1.7" stroke-linecap="butt"/>
<rect x="83.45" y="946.3" width="11.5" height="100.3" fill="#559ef8" stroke="#000" stroke-width="1.5"/>
<line x1="114.51" y1="951.28" x2="114.51" y2="963.5" stroke="#000" stroke-width="1.7" stroke-linecap="butt"/>
<line x1="111.26" y1="951.28" x2="117.76" y2="951.28" stroke="#000" stroke-width="1.7" stroke-linecap="butt"/>
<rect x="108.41" y="964.25" width="12.2" height="82.35" fill="#000" stroke="#000" stroke-width="1.5"/>
<line x1="127.86" y1="906.99" x2="127.86" y2="923.61" stroke="#000" stroke-width="1.7" stroke-linecap="butt"/>
<line x1="124.61" y1="906.99" x2="131.11" y2="906.99" stroke="#000" stroke-width="1.7" stroke-linecap="butt"/>
<rect x="122.11" y="924.36" width="11.5" height="122.24" fill="#559ef8" stroke="#000" stroke-width="1.5"/>
<line x1="153.17" y1="959.34" x2="153.17" y2="963.5" stroke="#000" stroke-width="1.7" stroke-linecap="butt"/>
<line x1="149.92" y1="959.34" x2="156.42" y2="959.34" stroke="#000" stroke-width="1.7" stroke-linecap="butt"/>
<rect x="147.07" y="964.25" width="12.2" height="82.35" fill="#000" stroke="#000" stroke-width="1.5"/>
<line x1="166.52" y1="944.39" x2="166.52" y2="949.37" stroke="#000" stroke-width="1.7" stroke-linecap="butt"/>
<line x1="163.27" y1="944.39" x2="169.77" y2="944.39" stroke="#000" stroke-width="1.7" stroke-linecap="butt"/>
<rect x="160.77" y="950.12" width="11.5" height="96.48" fill="#559ef8" stroke="#000" stroke-width="1.5"/>
<line x1="191.83" y1="956.85" x2="191.83" y2="963.5" stroke="#000" stroke-width="1.7" stroke-linecap="butt"/>
<line x1="188.58" y1="956.85" x2="195.08" y2="956.85" stroke="#000" stroke-width="1.7" stroke-linecap="butt"/>
<rect x="185.73" y="964.25" width="12.2" height="82.35" fill="#000" stroke="#000" stroke-width="1.5"/>
<line x1="205.18" y1="931.09" x2="205.18" y2="939.4" stroke="#000" stroke-width="1.7" stroke-linecap="butt"/>
<line x1="201.93" y1="931.09" x2="208.43" y2="931.09" stroke="#000" stroke-width="1.7" stroke-linecap="butt"/>
<rect x="199.43" y="940.15" width="11.5" height="106.45" fill="#559ef8" stroke="#000" stroke-width="1.5"/>
<line x1="230.49" y1="956.85" x2="230.49" y2="963.5" stroke="#000" stroke-width="1.7" stroke-linecap="butt"/>
<line x1="227.24" y1="956.85" x2="233.74" y2="956.85" stroke="#000" stroke-width="1.7" stroke-linecap="butt"/>
<rect x="224.39" y="964.25" width="12.2" height="82.35" fill="#000" stroke="#000" stroke-width="1.5"/>
<line x1="243.84" y1="971.81" x2="243.84" y2="982.61" stroke="#000" stroke-width="1.7" stroke-linecap="butt"/>
<line x1="240.59" y1="971.81" x2="247.09" y2="971.81" stroke="#000" stroke-width="1.7" stroke-linecap="butt"/>
<rect x="238.09" y="983.36" width="11.5" height="63.24" fill="#559ef8" stroke="#000" stroke-width="1.5"/>
<line x1="269.15" y1="955.69" x2="269.15" y2="963.5" stroke="#000" stroke-width="1.7" stroke-linecap="butt"/>
<line x1="265.9" y1="955.69" x2="272.4" y2="955.69" stroke="#000" stroke-width="1.7" stroke-linecap="butt"/>
<rect x="263.05" y="964.25" width="12.2" height="82.35" fill="#000" stroke="#000" stroke-width="1.5"/>
<line x1="282.5" y1="911.98" x2="282.5" y2="923.61" stroke="#000" stroke-width="1.7" stroke-linecap="butt"/>
<line x1="279.25" y1="911.98" x2="285.75" y2="911.98" stroke="#000" stroke-width="1.7" stroke-linecap="butt"/>
<rect x="276.75" y="924.36" width="11.5" height="122.24" fill="#559ef8" stroke="#000" stroke-width="1.5"/>
<line x1="307.81" y1="960.67" x2="307.81" y2="963.5" stroke="#000" stroke-width="1.7" stroke-linecap="butt"/>
<line x1="304.56" y1="960.67" x2="311.06" y2="960.67" stroke="#000" stroke-width="1.7" stroke-linecap="butt"/>
<rect x="301.71" y="964.25" width="12.2" height="82.35" fill="#000" stroke="#000" stroke-width="1.5"/>
<line x1="321.16" y1="948.13" x2="321.16" y2="954.36" stroke="#000" stroke-width="1.7" stroke-linecap="butt"/>
<line x1="317.91" y1="948.13" x2="324.41" y2="948.13" stroke="#000" stroke-width="1.7" stroke-linecap="butt"/>
<rect x="315.41" y="955.11" width="11.5" height="91.49" fill="#559ef8" stroke="#000" stroke-width="1.5"/>
<line x1="346.47" y1="959.34" x2="346.47" y2="963.5" stroke="#000" stroke-width="1.7" stroke-linecap="butt"/>
<line x1="343.22" y1="959.34" x2="349.72" y2="959.34" stroke="#000" stroke-width="1.7" stroke-linecap="butt"/>
<rect x="340.37" y="964.25" width="12.2" height="82.35" fill="#000" stroke="#000" stroke-width="1.5"/>
<line x1="359.82" y1="949.37" x2="359.82" y2="952.7" stroke="#000" stroke-width="1.7" stroke-linecap="butt"/>
<line x1="356.57" y1="949.37" x2="363.07" y2="949.37" stroke="#000" stroke-width="1.7" stroke-linecap="butt"/>
<rect x="354.07" y="953.45" width="11.5" height="93.15" fill="#559ef8" stroke="#000" stroke-width="1.5"/>
<line x1="63.8" y1="880.4" x2="63.8" y2="1047.35" stroke="#000" stroke-width="1.5" stroke-linecap="butt"/>
<line x1="63.8" y1="1046.6" x2="371.6" y2="1046.6" stroke="#000" stroke-width="1.5" stroke-linecap="butt"/>
<text x="37.5" y="1052.15" font-size="12.3" fill="#000">0.0</text>
<line x1="59.2" y1="1046.6" x2="63.8" y2="1046.6" stroke="#000" stroke-width="1.5" stroke-linecap="butt"/>
<text x="37.6" y="1010.6" font-size="12.3" fill="#000">0.5</text>
<line x1="59.2" y1="1005.05" x2="63.8" y2="1005.05" stroke="#000" stroke-width="1.5" stroke-linecap="butt"/>
<text x="37.5" y="969.05" font-size="12.3" fill="#000">1.0</text>
<line x1="59.2" y1="963.5" x2="63.8" y2="963.5" stroke="#000" stroke-width="1.5" stroke-linecap="butt"/>
<text x="37.6" y="927.45" font-size="12.3" fill="#000">1.5</text>
<line x1="59.2" y1="921.95" x2="63.8" y2="921.95" stroke="#000" stroke-width="1.5" stroke-linecap="butt"/>
<text x="37.5" y="885.95" font-size="12.3" fill="#000">2.0</text>
<line x1="59.2" y1="880.4" x2="63.8" y2="880.4" stroke="#000" stroke-width="1.5" stroke-linecap="butt"/>
<line x1="82.7" y1="1046.6" x2="82.7" y2="1051.2" stroke="#000" stroke-width="1.5" stroke-linecap="butt"/>
<line x1="121.36" y1="1046.6" x2="121.36" y2="1051.2" stroke="#000" stroke-width="1.5" stroke-linecap="butt"/>
<line x1="160.02" y1="1046.6" x2="160.02" y2="1051.2" stroke="#000" stroke-width="1.5" stroke-linecap="butt"/>
<line x1="198.68" y1="1046.6" x2="198.68" y2="1051.2" stroke="#000" stroke-width="1.5" stroke-linecap="butt"/>
<line x1="237.34" y1="1046.6" x2="237.34" y2="1051.2" stroke="#000" stroke-width="1.5" stroke-linecap="butt"/>
<line x1="276" y1="1046.6" x2="276" y2="1051.2" stroke="#000" stroke-width="1.5" stroke-linecap="butt"/>
<line x1="314.66" y1="1046.6" x2="314.66" y2="1051.2" stroke="#000" stroke-width="1.5" stroke-linecap="butt"/>
<line x1="353.32" y1="1046.6" x2="353.32" y2="1051.2" stroke="#000" stroke-width="1.5" stroke-linecap="butt"/>
<text x="67.95" y="1064" font-size="11.8" fill="#000">Ucp1</text>
<text x="103.35" y="1064" font-size="11.8" fill="#000">Elovl3</text>
<text x="142.6" y="1064" font-size="11.8" fill="#000">Cox8b</text>
<text x="184.75" y="1064" font-size="11.8" fill="#000">Dio2</text>
<text x="215" y="1064" font-size="11.8" fill="#000">Fgf21</text>
<text x="250.7" y="1064" font-size="11.8" fill="#000">PGC1α</text>
<text x="296.9" y="1064" font-size="11.8" fill="#000">Adrb3</text>
<text x="335.55" y="1064" font-size="11.8" fill="#000">Cidea</text>
<text x="82.05" y="942.75" font-size="17.5" font-weight="bold" letter-spacing="1.4" fill="#000">**</text>
<text x="116.6" y="904" font-size="13.4" fill="#000">0.08</text>
<text x="155" y="941" font-size="13.4" fill="#000">0.05</text>
<text x="201.95" y="933.75" font-size="17.5" font-weight="bold" letter-spacing="1.4" fill="#000">*</text>
<text x="274.85" y="913.75" font-size="17.5" font-weight="bold" letter-spacing="1.4" fill="#000">**</text>
<text x="344.05" y="946.2" font-size="13.4" fill="#000">0.07</text>
<text transform="translate(31.6,1052.3) rotate(-90)" font-size="14.05">Relative Expression/Control</text>
<rect x="313" y="872.5" width="22.4" height="11.1" fill="#000"/>
<rect x="313.75" y="893.75" width="20.9" height="9.2" fill="#559ef8" stroke="#000" stroke-width="1.5"/>
<text x="339.2" y="883.6" font-size="17" fill="#000">ctrl</text>
<text x="340.4" y="903.3" font-size="17" fill="#000">sOE</text>
</svg>
</body></html>
